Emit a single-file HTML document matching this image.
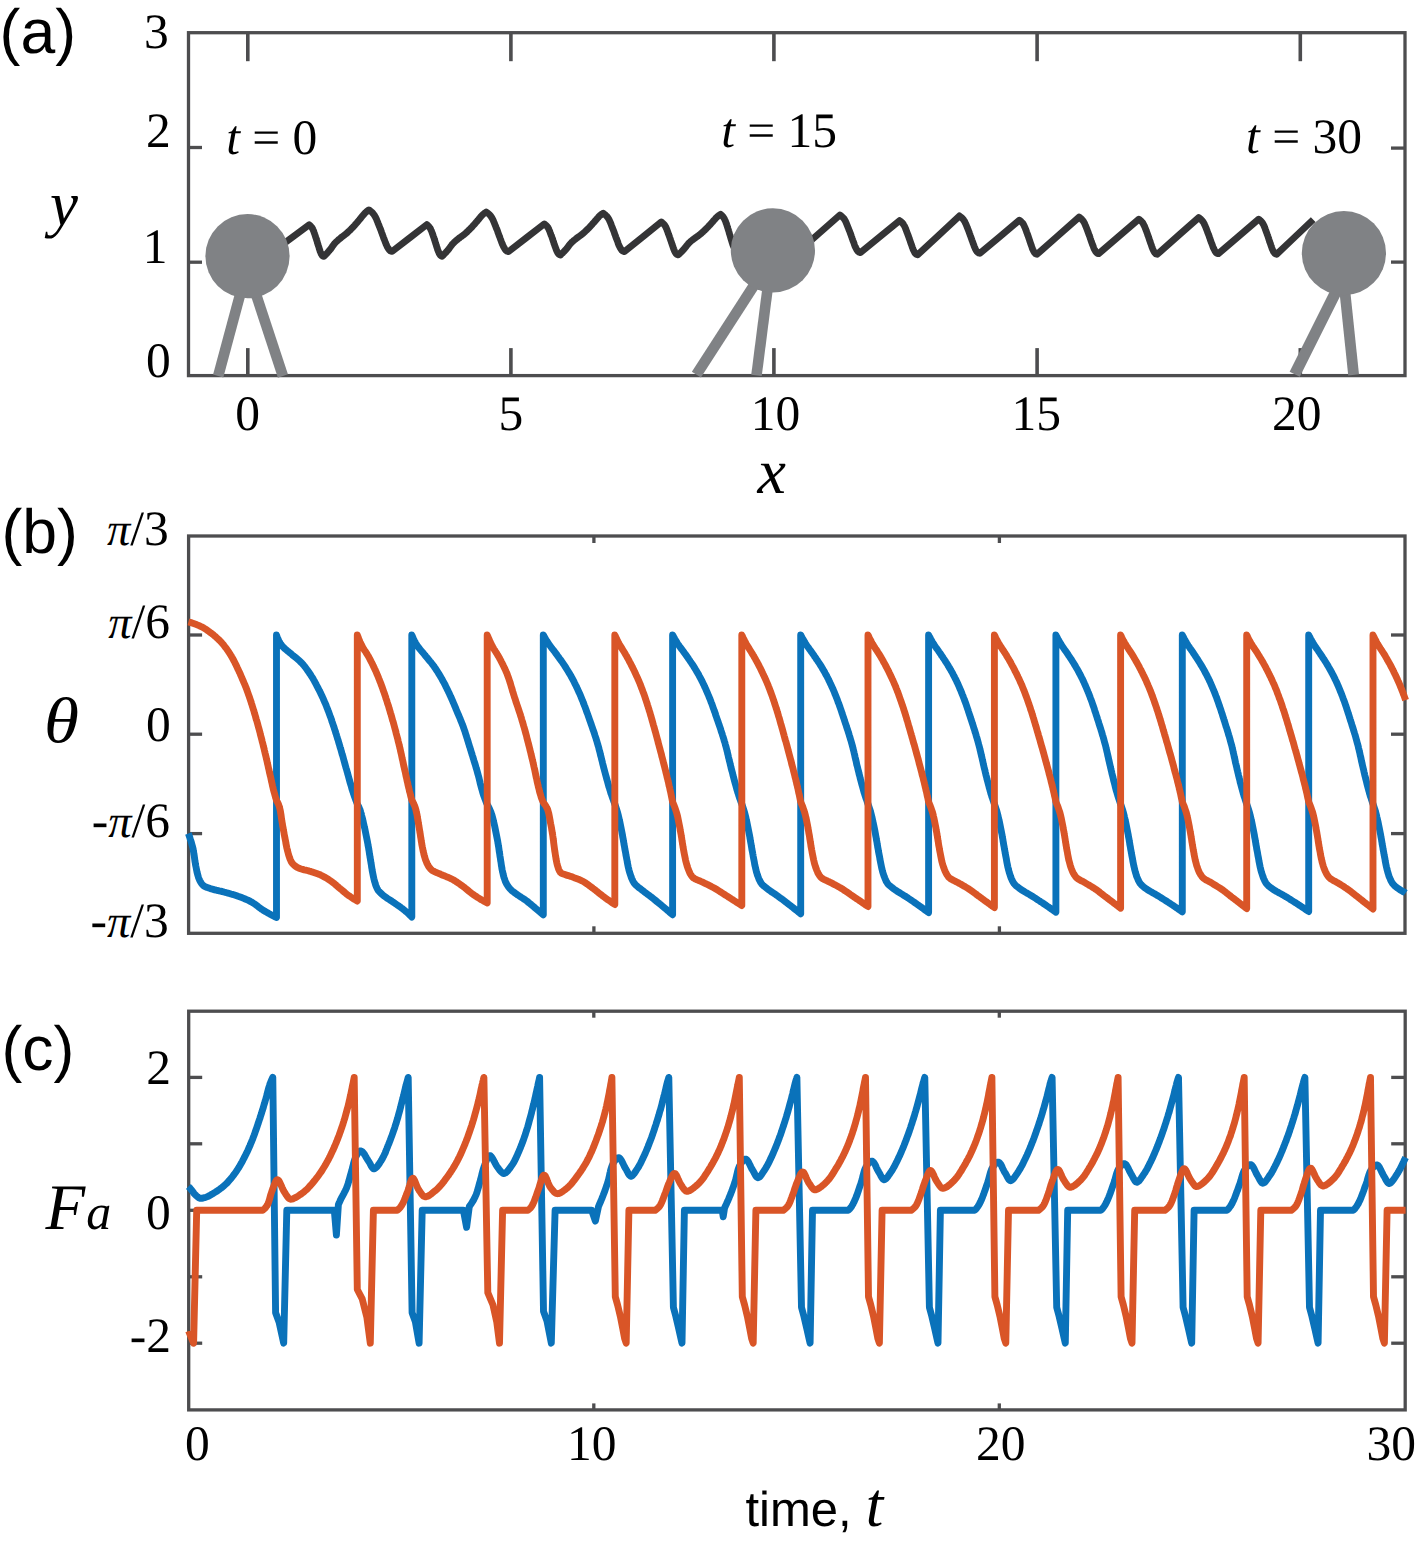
<!DOCTYPE html>
<html><head><meta charset="utf-8"><title>figure</title>
<style>html,body{margin:0;padding:0;background:#fff}svg{display:block}</style></head>
<body>
<svg width="1415" height="1549" viewBox="0 0 1415 1549">
<rect width="1415" height="1549" fill="#fff"/>
<line x1="247.8" y1="32.7" x2="247.8" y2="61.2" stroke="#4d4d4f" stroke-width="3.6"/>
<line x1="247.8" y1="375.6" x2="247.8" y2="348.1" stroke="#4d4d4f" stroke-width="3.6"/>
<line x1="510.9" y1="32.7" x2="510.9" y2="61.2" stroke="#4d4d4f" stroke-width="3.6"/>
<line x1="510.9" y1="375.6" x2="510.9" y2="348.1" stroke="#4d4d4f" stroke-width="3.6"/>
<line x1="773.9" y1="32.7" x2="773.9" y2="61.2" stroke="#4d4d4f" stroke-width="3.6"/>
<line x1="773.9" y1="375.6" x2="773.9" y2="348.1" stroke="#4d4d4f" stroke-width="3.6"/>
<line x1="1037.1" y1="32.7" x2="1037.1" y2="61.2" stroke="#4d4d4f" stroke-width="3.6"/>
<line x1="1037.1" y1="375.6" x2="1037.1" y2="348.1" stroke="#4d4d4f" stroke-width="3.6"/>
<line x1="1300.3" y1="32.7" x2="1300.3" y2="61.2" stroke="#4d4d4f" stroke-width="3.6"/>
<line x1="1300.3" y1="375.6" x2="1300.3" y2="348.1" stroke="#4d4d4f" stroke-width="3.6"/>
<line x1="188.5" y1="147.5" x2="202" y2="147.5" stroke="#4d4d4f" stroke-width="3.3"/>
<line x1="1405" y1="148.1" x2="1391" y2="148.1" stroke="#4d4d4f" stroke-width="3.3"/>
<line x1="188.5" y1="262.2" x2="202" y2="262.2" stroke="#4d4d4f" stroke-width="3.3"/>
<line x1="1405" y1="262.1" x2="1391" y2="262.1" stroke="#4d4d4f" stroke-width="3.3"/>
<path d="M262 259.6 L285.6 242.2 L309.2 224.8 L309.9 225.4 L310.5 226 L311.1 226.6 L311.7 227.3 L312.1 228 L312.2 228 L312.6 228.7 L312.9 229.4 L313.3 230.2 L313.6 231 L313.9 231.8 L314.2 232.7 L314.5 233.5 L314.8 234.4 L315.1 235.2 L315.3 236 L315.6 236.9 L315.8 237.4 L315.9 237.7 L316.2 238.5 L316.4 239.3 L316.7 240.2 L317 241 L317.2 241.8 L317.4 242.7 L317.7 243.5 L317.9 244.3 L318.2 245.2 L318.5 246 L318.7 246.8 L318.8 246.9 L319 247.6 L319.2 248.5 L319.5 249.3 L319.8 250.2 L320 251 L320.3 251.8 L320.7 252.6 L321 253.2 L321 253.4 L321.4 254.2 L321.9 255 L322.4 255.7 L322.7 255.9 L323 256.1 L323.9 256.4 L324.8 255.5 L325.6 254.7 L326.5 253.8 L327.3 252.9 L328.1 252 L328.9 251 L329.6 250.3 L329.7 250.1 L330.5 249.2 L331.2 248.2 L331.9 247.2 L332.6 246.1 L333.4 245.1 L334.1 244.2 L334.9 243.2 L335.2 242.8 L335.7 242.3 L336.6 241.5 L337.5 240.7 L338.4 239.8 L339.3 239.1 L340.3 238.3 L341 237.7 L341.2 237.5 L342.2 236.7 L343.2 236 L344.2 235.3 L345.1 234.5 L346.1 233.8 L346.5 233.4 L347 233 L347.9 232.1 L348.8 231.3 L349.7 230.5 L350.6 229.6 L351.5 228.7 L352.3 227.8 L353.2 227 L353.4 226.7 L354 226.1 L354.8 225.2 L355.6 224.2 L356.4 223.3 L357.2 222.4 L358 221.4 L358.8 220.5 L359.6 219.5 L360.2 218.8 L360.4 218.6 L361.1 217.7 L361.9 216.7 L362.7 215.7 L363.5 214.8 L364.3 213.8 L365.1 212.9 L365.9 212.2 L366 212.1 L366.9 211.3 L367.9 210.6 L368.9 209.9 L369.9 210.6 L370.9 211.4 L371.8 212.1 L372.6 213 L373.4 213.8 L373.6 214.1 L374 214.7 L374.7 215.7 L375.2 216.7 L375.8 217.8 L376.3 218.8 L376.8 220 L377.2 221.1 L377.7 222.2 L378.1 223.4 L378.6 224.5 L379 225.6 L379.4 226.5 L379.5 226.7 L379.9 227.8 L380.3 228.9 L380.8 230 L381.2 231.1 L381.6 232.3 L382 233.4 L382.4 234.5 L382.8 235.6 L383.2 236.7 L383.6 237.9 L384 238.9 L384.1 239 L384.5 240.1 L384.9 241.2 L385.3 242.3 L385.8 243.5 L386.2 244.6 L386.7 245.6 L387.2 246.7 L387.5 247.2 L387.8 247.7 L388.5 248.8 L389.2 249.8 L390 250.6 L390.3 250.8 L391 251.1 L392.2 251.4 L409.5 238 L426.8 224.6 L427.5 225.2 L428.2 225.8 L428.8 226.4 L429.4 227.1 L429.8 227.7 L429.9 227.8 L430.3 228.5 L430.7 229.2 L431 230 L431.4 230.8 L431.7 231.6 L432 232.4 L432.3 233.3 L432.6 234.1 L432.9 235 L433.2 235.8 L433.5 236.7 L433.7 237.2 L433.8 237.5 L434.1 238.3 L434.3 239.1 L434.6 240 L434.9 240.8 L435.1 241.6 L435.4 242.5 L435.6 243.3 L435.9 244.1 L436.2 245 L436.4 245.8 L436.7 246.6 L436.7 246.7 L437 247.5 L437.3 248.3 L437.5 249.2 L437.8 250 L438.1 250.8 L438.4 251.6 L438.8 252.4 L439 253 L439.1 253.2 L439.5 254 L440 254.8 L440.6 255.5 L440.9 255.7 L441.2 255.9 L442.1 256.2 L443 255.4 L443.8 254.5 L444.6 253.7 L445.5 252.8 L446.3 252 L447 251.1 L447.7 250.4 L447.8 250.2 L448.6 249.3 L449.3 248.4 L450 247.4 L450.7 246.4 L451.4 245.5 L452.1 244.5 L452.9 243.7 L453.2 243.3 L453.7 242.8 L454.5 242 L455.4 241.2 L456.3 240.4 L457.2 239.7 L458.2 238.9 L458.8 238.4 L459.1 238.2 L460 237.5 L461 236.8 L462 236.1 L462.9 235.4 L463.8 234.7 L464.3 234.3 L464.8 233.9 L465.6 233.2 L466.5 232.4 L467.4 231.6 L468.2 230.7 L469.1 229.9 L469.9 229.1 L470.8 228.2 L471 228 L471.6 227.4 L472.4 226.5 L473.2 225.6 L474 224.7 L474.7 223.9 L475.5 223 L476.3 222.1 L477.1 221.2 L477.6 220.5 L477.8 220.3 L478.6 219.4 L479.4 218.4 L480.1 217.5 L480.9 216.6 L481.7 215.7 L482.5 214.9 L483.2 214.2 L483.3 214.1 L484.2 213.4 L485.2 212.7 L486.2 212 L487.2 212.7 L488.1 213.4 L489 214.1 L489.8 214.9 L490.5 215.7 L490.7 216 L491.1 216.6 L491.7 217.5 L492.3 218.5 L492.8 219.5 L493.3 220.5 L493.7 221.6 L494.2 222.7 L494.6 223.7 L495 224.8 L495.5 225.9 L495.9 227 L496.2 227.8 L496.3 228 L496.7 229.1 L497.2 230.1 L497.6 231.2 L497.9 232.3 L498.3 233.3 L498.7 234.4 L499.1 235.5 L499.5 236.6 L499.9 237.6 L500.3 238.7 L500.7 239.7 L500.7 239.7 L501.1 240.8 L501.5 241.9 L501.9 242.9 L502.3 244 L502.8 245.1 L503.2 246.1 L503.7 247.1 L504 247.6 L504.3 248.1 L504.9 249.1 L505.6 250.1 L506.4 250.8 L506.7 251 L507.4 251.3 L508.5 251.6 L526.4 237.8 L544.3 223.9 L545 224.5 L545.7 225 L546.4 225.6 L547 226.3 L547.5 226.9 L547.5 227 L547.9 227.6 L548.4 228.3 L548.7 229.1 L549.1 229.9 L549.5 230.7 L549.8 231.5 L550.1 232.4 L550.4 233.2 L550.7 234 L551 234.9 L551.4 235.7 L551.6 236.3 L551.7 236.5 L552 237.4 L552.3 238.2 L552.6 239 L552.8 239.8 L553.1 240.7 L553.4 241.5 L553.7 242.3 L553.9 243.2 L554.2 244 L554.5 244.8 L554.8 245.6 L554.8 245.7 L555.1 246.5 L555.4 247.3 L555.7 248.1 L556 249 L556.3 249.8 L556.6 250.6 L557 251.4 L557.3 251.9 L557.4 252.1 L557.8 252.9 L558.4 253.7 L558.9 254.3 L559.2 254.5 L559.6 254.7 L560.5 255 L561.3 254.2 L562.1 253.4 L563 252.6 L563.7 251.8 L564.5 251 L565.3 250.2 L565.9 249.5 L566 249.3 L566.8 248.5 L567.5 247.6 L568.1 246.7 L568.8 245.7 L569.5 244.8 L570.2 244 L571 243.1 L571.3 242.8 L571.7 242.3 L572.6 241.6 L573.4 240.8 L574.3 240.1 L575.2 239.4 L576.1 238.7 L576.7 238.2 L577 238 L577.9 237.3 L578.8 236.6 L579.7 236 L580.7 235.3 L581.6 234.6 L582 234.3 L582.4 233.9 L583.3 233.2 L584.1 232.5 L585 231.7 L585.8 230.9 L586.6 230.1 L587.4 229.4 L588.2 228.6 L588.5 228.3 L589 227.8 L589.8 226.9 L590.6 226.1 L591.3 225.3 L592.1 224.4 L592.8 223.6 L593.6 222.7 L594.3 221.9 L594.9 221.2 L595.1 221 L595.8 220.2 L596.6 219.3 L597.3 218.4 L598.1 217.6 L598.8 216.7 L599.6 215.9 L600.3 215.2 L600.4 215.2 L601.3 214.5 L602.2 213.8 L603.2 213.2 L604.1 213.9 L605 214.6 L605.8 215.3 L606.6 216.1 L607.3 216.9 L607.4 217 L607.9 217.7 L608.5 218.6 L609 219.5 L609.5 220.5 L609.9 221.5 L610.4 222.5 L610.8 223.6 L611.2 224.6 L611.6 225.7 L612 226.7 L612.4 227.7 L612.7 228.6 L612.8 228.8 L613.2 229.8 L613.6 230.8 L614 231.8 L614.4 232.9 L614.7 233.9 L615.1 234.9 L615.5 236 L615.8 237 L616.2 238 L616.6 239.1 L617 240.1 L617 240.1 L617.4 241.1 L617.8 242.1 L618.1 243.2 L618.5 244.2 L618.9 245.2 L619.4 246.2 L619.9 247.2 L620.2 247.8 L620.4 248.2 L621 249.1 L621.6 250.1 L622.4 250.8 L622.7 251 L623.3 251.3 L624.4 251.6 L642.8 236.8 L661.3 221.9 L662 222.5 L662.8 223.1 L663.5 223.8 L664.1 224.4 L664.6 225.1 L664.7 225.2 L665.1 225.9 L665.5 226.6 L666 227.4 L666.3 228.3 L666.7 229.1 L667 230 L667.4 230.9 L667.7 231.8 L668 232.7 L668.3 233.6 L668.7 234.5 L668.9 235.1 L669 235.3 L669.3 236.2 L669.6 237.1 L669.9 237.9 L670.2 238.8 L670.5 239.7 L670.8 240.6 L671.1 241.4 L671.4 242.3 L671.7 243.2 L672 244.1 L672.3 245 L672.3 245 L672.6 245.8 L672.9 246.7 L673.2 247.6 L673.5 248.5 L673.8 249.3 L674.2 250.2 L674.5 251 L674.8 251.6 L674.9 251.8 L675.4 252.7 L675.9 253.5 L676.6 254.2 L676.8 254.4 L677.3 254.6 L678.2 254.9 L679 254.1 L679.8 253.4 L680.6 252.6 L681.4 251.8 L682.2 251 L683 250.2 L683.6 249.5 L683.7 249.4 L684.4 248.6 L685.1 247.7 L685.8 246.8 L686.5 245.9 L687.2 245 L687.9 244.2 L688.6 243.3 L688.9 243 L689.4 242.6 L690.2 241.8 L691 241.1 L691.9 240.4 L692.8 239.7 L693.7 239 L694.3 238.6 L694.6 238.4 L695.5 237.7 L696.4 237.1 L697.3 236.4 L698.2 235.8 L699.1 235.1 L699.5 234.8 L700 234.4 L700.8 233.7 L701.7 233 L702.5 232.3 L703.3 231.5 L704.1 230.8 L704.9 230 L705.7 229.2 L706 229 L706.5 228.4 L707.3 227.6 L708.1 226.8 L708.8 226 L709.6 225.2 L710.3 224.4 L711.1 223.5 L711.8 222.7 L712.4 222.1 L712.6 221.9 L713.3 221.1 L714 220.2 L714.8 219.4 L715.5 218.5 L716.3 217.7 L717 216.9 L717.8 216.3 L717.9 216.2 L718.7 215.5 L719.7 214.9 L720.6 214.3 L721.4 215 L722.1 215.7 L722.8 216.4 L723.4 217.2 L723.9 217.9 L723.9 218 L724.4 218.8 L724.8 219.7 L725.2 220.5 L725.6 221.5 L725.9 222.4 L726.2 223.3 L726.6 224.3 L726.9 225.3 L727.2 226.2 L727.5 227.2 L727.8 228.1 L728 228.8 L728.1 229.1 L728.4 230 L728.7 231 L729 231.9 L729.2 232.9 L729.5 233.8 L729.8 234.8 L730.1 235.7 L730.4 236.7 L730.6 237.6 L730.9 238.6 L731.2 239.5 L731.3 239.6 L731.5 240.5 L731.8 241.4 L732.1 242.4 L732.4 243.3 L732.7 244.3 L733 245.2 L733.4 246.1 L733.7 246.9 L733.8 247 L734.2 247.9 L734.7 248.8 L735.3 249.6 L735.7 250 L736 250.2 L737 250.5" fill="none" stroke="#343436" stroke-width="6.8" stroke-linejoin="round" stroke-linecap="butt"/>
<path d="M795 254.5 L817.5 234.8 L839.9 215 L840.8 215.7 L841.7 216.3 L842.5 217.1 L843.2 217.8 L843.9 218.6 L844 218.8 L844.5 219.4 L845 220.3 L845.5 221.2 L846 222.2 L846.4 223.2 L846.8 224.2 L847.2 225.2 L847.6 226.2 L848 227.2 L848.4 228.2 L848.8 229.3 L849.1 230 L849.2 230.3 L849.6 231.2 L850 232.2 L850.3 233.2 L850.7 234.3 L851.1 235.3 L851.4 236.3 L851.8 237.3 L852.1 238.3 L852.5 239.3 L852.8 240.3 L853.2 241.3 L853.2 241.3 L853.6 242.3 L854 243.3 L854.3 244.3 L854.7 245.4 L855.1 246.4 L855.5 247.3 L856 248.3 L856.3 248.8 L856.5 249.2 L857.1 250.2 L857.7 251.1 L858.5 251.8 L858.8 252 L859.3 252.3 L860.4 252.6 L880 236.6 L899.6 220.6 L900.4 221.2 L901.2 221.8 L901.9 222.5 L902.6 223.2 L903.1 223.9 L903.2 224 L903.6 224.7 L904.1 225.5 L904.6 226.3 L905 227.2 L905.4 228.1 L905.7 229 L906.1 229.9 L906.4 230.8 L906.8 231.7 L907.1 232.7 L907.5 233.6 L907.7 234.3 L907.8 234.5 L908.2 235.4 L908.5 236.3 L908.8 237.2 L909.1 238.1 L909.4 239 L909.8 240 L910.1 240.9 L910.4 241.8 L910.7 242.7 L911 243.6 L911.4 244.5 L911.4 244.5 L911.7 245.4 L912 246.3 L912.3 247.3 L912.7 248.2 L913 249.1 L913.4 250 L913.8 250.8 L914.1 251.4 L914.2 251.7 L914.7 252.6 L915.3 253.4 L916 254.1 L916.3 254.3 L916.7 254.5 L917.7 254.8 L938.5 235.4 L959.4 215.9 L960.3 216.6 L961.1 217.2 L962 217.9 L962.7 218.7 L963.4 219.5 L963.5 219.6 L963.9 220.3 L964.5 221.2 L965 222.1 L965.4 223 L965.9 224 L966.3 225 L966.7 226 L967.1 227 L967.5 228.1 L967.9 229.1 L968.3 230.1 L968.6 230.9 L968.7 231.1 L969.1 232.1 L969.4 233.1 L969.8 234.1 L970.1 235.1 L970.5 236.1 L970.9 237.1 L971.2 238.1 L971.6 239.1 L971.9 240.1 L972.3 241.1 L972.7 242.1 L972.7 242.1 L973 243.1 L973.4 244.1 L973.8 245.1 L974.1 246.1 L974.5 247.1 L975 248.1 L975.4 249 L975.7 249.6 L975.9 249.9 L976.5 250.9 L977.1 251.8 L977.9 252.5 L978.2 252.7 L978.7 253 L979.8 253.3 L999.6 236.8 L1019.4 220.2 L1020.2 220.8 L1020.9 221.4 L1021.6 222.1 L1022.3 222.8 L1022.9 223.5 L1022.9 223.6 L1023.4 224.3 L1023.8 225.1 L1024.2 225.9 L1024.6 226.8 L1025 227.7 L1025.4 228.6 L1025.7 229.5 L1026.1 230.4 L1026.4 231.3 L1026.7 232.3 L1027.1 233.2 L1027.3 233.8 L1027.4 234.1 L1027.7 235 L1028.1 235.9 L1028.4 236.8 L1028.7 237.7 L1029 238.6 L1029.3 239.5 L1029.6 240.4 L1029.9 241.3 L1030.2 242.2 L1030.5 243.1 L1030.8 244 L1030.8 244.1 L1031.1 244.9 L1031.5 245.8 L1031.8 246.8 L1032.1 247.7 L1032.4 248.6 L1032.8 249.5 L1033.2 250.3 L1033.5 250.9 L1033.6 251.2 L1034.1 252 L1034.7 252.9 L1035.3 253.6 L1035.6 253.8 L1036 254 L1037 254.3 L1058 235.7 L1079.1 217.1 L1080 217.7 L1080.8 218.4 L1081.6 219.1 L1082.3 219.9 L1082.9 220.6 L1083 220.8 L1083.5 221.4 L1084 222.3 L1084.5 223.2 L1084.9 224.1 L1085.3 225.1 L1085.7 226 L1086.1 227 L1086.5 228 L1086.9 229 L1087.3 230 L1087.6 231 L1087.9 231.7 L1088 232 L1088.4 232.9 L1088.7 233.9 L1089.1 234.9 L1089.4 235.8 L1089.8 236.8 L1090.1 237.8 L1090.4 238.8 L1090.8 239.8 L1091.1 240.8 L1091.5 241.7 L1091.8 242.7 L1091.8 242.7 L1092.2 243.7 L1092.5 244.7 L1092.9 245.6 L1093.3 246.6 L1093.6 247.6 L1094 248.6 L1094.5 249.5 L1094.8 250 L1095 250.4 L1095.5 251.3 L1096.1 252.2 L1096.8 252.9 L1097.1 253.2 L1097.7 253.4 L1098.7 253.7 L1118.8 236.4 L1138.9 219.2 L1139.7 219.8 L1140.5 220.5 L1141.2 221.2 L1141.9 221.9 L1142.5 222.6 L1142.6 222.7 L1143 223.4 L1143.5 224.2 L1143.9 225.1 L1144.4 226 L1144.8 226.9 L1145.1 227.8 L1145.5 228.7 L1145.9 229.7 L1146.2 230.6 L1146.6 231.6 L1146.9 232.5 L1147.2 233.2 L1147.3 233.5 L1147.6 234.4 L1147.9 235.3 L1148.3 236.2 L1148.6 237.2 L1148.9 238.1 L1149.2 239.1 L1149.5 240 L1149.9 240.9 L1150.2 241.9 L1150.5 242.8 L1150.8 243.7 L1150.9 243.8 L1151.2 244.7 L1151.5 245.6 L1151.8 246.6 L1152.2 247.5 L1152.5 248.4 L1152.9 249.3 L1153.3 250.2 L1153.6 250.8 L1153.8 251.1 L1154.3 252 L1154.9 252.9 L1155.5 253.6 L1155.8 253.8 L1156.3 254 L1157.3 254.3 L1178 235.9 L1198.7 217.6 L1199.6 218.2 L1200.4 218.9 L1201.2 219.6 L1201.9 220.3 L1202.5 221.1 L1202.6 221.2 L1203.1 221.8 L1203.6 222.7 L1204.1 223.6 L1204.5 224.5 L1205 225.4 L1205.4 226.4 L1205.8 227.4 L1206.1 228.3 L1206.5 229.3 L1206.9 230.3 L1207.3 231.3 L1207.6 232 L1207.6 232.2 L1208 233.2 L1208.4 234.2 L1208.7 235.1 L1209.1 236.1 L1209.4 237.1 L1209.8 238 L1210.1 239 L1210.4 240 L1210.8 240.9 L1211.1 241.9 L1211.5 242.9 L1211.5 242.9 L1211.9 243.8 L1212.2 244.8 L1212.6 245.8 L1212.9 246.7 L1213.3 247.7 L1213.7 248.6 L1214.2 249.6 L1214.5 250.1 L1214.7 250.4 L1215.2 251.4 L1215.8 252.3 L1216.5 253 L1216.8 253.2 L1217.4 253.4 L1218.4 253.7 L1238.6 236.4 L1258.7 219.2 L1259.5 219.8 L1260.3 220.5 L1261 221.2 L1261.7 221.9 L1262.2 222.6 L1262.3 222.7 L1262.7 223.4 L1263.2 224.2 L1263.7 225.1 L1264.1 226 L1264.5 226.9 L1264.8 227.8 L1265.2 228.8 L1265.5 229.7 L1265.9 230.7 L1266.2 231.6 L1266.5 232.5 L1266.8 233.2 L1266.9 233.5 L1267.2 234.4 L1267.6 235.3 L1267.9 236.3 L1268.2 237.2 L1268.5 238.1 L1268.8 239.1 L1269.1 240 L1269.4 240.9 L1269.7 241.9 L1270.1 242.8 L1270.4 243.7 L1270.4 243.8 L1270.7 244.6 L1271 245.6 L1271.4 246.5 L1271.7 247.5 L1272 248.4 L1272.4 249.3 L1272.8 250.2 L1273.1 250.8 L1273.2 251.1 L1273.7 252 L1274.3 252.8 L1274.9 253.5 L1275.3 253.8 L1275.7 254 L1276.7 254.3 L1295 236.9 L1313.2 219.6" fill="none" stroke="#343436" stroke-width="6.8" stroke-linejoin="round" stroke-linecap="butt"/>
<rect x="188.5" y="32.7" width="1216.5" height="342.9" fill="none" stroke="#4d4d4f" stroke-width="3.3"/>
<line x1="248.9" y1="261.9" x2="218.2" y2="376" stroke="#808285" stroke-width="10.6"/>
<line x1="245.3" y1="261.9" x2="282.9" y2="376" stroke="#808285" stroke-width="10.6"/>
<line x1="778" y1="248.2" x2="696.4" y2="374.6" stroke="#808285" stroke-width="10.8"/>
<line x1="772" y1="254" x2="756.5" y2="375.4" stroke="#808285" stroke-width="10.6"/>
<line x1="1353" y1="257.7" x2="1294.7" y2="374.3" stroke="#808285" stroke-width="11.4"/>
<line x1="1341.3" y1="257.4" x2="1353.6" y2="374.9" stroke="#808285" stroke-width="10.8"/>
<circle cx="247.5" cy="256.2" r="42.1" fill="#808285"/>
<circle cx="772.9" cy="250.4" r="42.1" fill="#808285"/>
<circle cx="1343.9" cy="253.1" r="42.1" fill="#808285"/>
<text x="-0.4" y="53.3" text-anchor="start" fill="#000" text-rendering="geometricPrecision"><tspan font-family='"Liberation Sans", sans-serif' font-style="normal" font-size="62.5">(a)</tspan></text>
<text x="143.9" y="48.4" text-anchor="start" fill="#000" text-rendering="geometricPrecision"><tspan font-family='"Liberation Serif", serif' font-style="normal" font-size="49.5">3</tspan></text>
<text x="146.1" y="146.5" text-anchor="start" fill="#000" text-rendering="geometricPrecision"><tspan font-family='"Liberation Serif", serif' font-style="normal" font-size="49.5">2</tspan></text>
<text x="142.8" y="262.6" text-anchor="start" fill="#000" text-rendering="geometricPrecision"><tspan font-family='"Liberation Serif", serif' font-style="normal" font-size="49.5">1</tspan></text>
<text x="145.9" y="376.5" text-anchor="start" fill="#000" text-rendering="geometricPrecision"><tspan font-family='"Liberation Serif", serif' font-style="normal" font-size="49.5">0</tspan></text>
<text x="235.2" y="430.2" text-anchor="start" fill="#000" text-rendering="geometricPrecision"><tspan font-family='"Liberation Serif", serif' font-style="normal" font-size="49.5">0</tspan></text>
<text x="498.5" y="430.2" text-anchor="start" fill="#000" text-rendering="geometricPrecision"><tspan font-family='"Liberation Serif", serif' font-style="normal" font-size="49.5">5</tspan></text>
<text x="750.8" y="430.2" text-anchor="start" fill="#000" text-rendering="geometricPrecision"><tspan font-family='"Liberation Serif", serif' font-style="normal" font-size="49.5">10</tspan></text>
<text x="1011.5" y="430.2" text-anchor="start" fill="#000" text-rendering="geometricPrecision"><tspan font-family='"Liberation Serif", serif' font-style="normal" font-size="49.5">15</tspan></text>
<text x="1272.1" y="430.2" text-anchor="start" fill="#000" text-rendering="geometricPrecision"><tspan font-family='"Liberation Serif", serif' font-style="normal" font-size="49.5">20</tspan></text>
<text x="50.1" y="224.6" text-anchor="start" fill="#000" text-rendering="geometricPrecision"><tspan font-family='"Liberation Serif", serif' font-style="italic" font-size="63">y</tspan></text>
<text x="757.5" y="492.7" text-anchor="start" fill="#000" text-rendering="geometricPrecision"><tspan font-family='"Liberation Serif", serif' font-style="italic" font-size="64">x</tspan></text>
<text x="226.2" y="153.5" text-anchor="start" fill="#000" text-rendering="geometricPrecision"><tspan font-family='"Liberation Serif", serif' font-style="italic" font-size="49.5">t</tspan><tspan font-family='"Liberation Serif", serif' font-style="normal" font-size="49.5"> = 0</tspan></text>
<text x="721.2" y="146.5" text-anchor="start" fill="#000" text-rendering="geometricPrecision"><tspan font-family='"Liberation Serif", serif' font-style="italic" font-size="49.5">t</tspan><tspan font-family='"Liberation Serif", serif' font-style="normal" font-size="49.5"> = 15</tspan></text>
<text x="1246.1" y="153.2" text-anchor="start" fill="#000" text-rendering="geometricPrecision"><tspan font-family='"Liberation Serif", serif' font-style="italic" font-size="49.5">t</tspan><tspan font-family='"Liberation Serif", serif' font-style="normal" font-size="49.5"> = 30</tspan></text>
<line x1="593.9" y1="536" x2="593.9" y2="543" stroke="#4d4d4f" stroke-width="3.3"/>
<line x1="593.9" y1="933.3" x2="593.9" y2="926.3" stroke="#4d4d4f" stroke-width="3.3"/>
<line x1="999.4" y1="536" x2="999.4" y2="543" stroke="#4d4d4f" stroke-width="3.3"/>
<line x1="999.4" y1="933.3" x2="999.4" y2="926.3" stroke="#4d4d4f" stroke-width="3.3"/>
<line x1="188.6" y1="635" x2="202.1" y2="635" stroke="#4d4d4f" stroke-width="3.3"/>
<line x1="1405" y1="635" x2="1391" y2="635" stroke="#4d4d4f" stroke-width="3.3"/>
<line x1="188.6" y1="734.2" x2="202.1" y2="734.2" stroke="#4d4d4f" stroke-width="3.3"/>
<line x1="1405" y1="734.2" x2="1391" y2="734.2" stroke="#4d4d4f" stroke-width="3.3"/>
<line x1="188.6" y1="833.6" x2="202.1" y2="833.6" stroke="#4d4d4f" stroke-width="3.3"/>
<line x1="1405" y1="833.6" x2="1391" y2="833.6" stroke="#4d4d4f" stroke-width="3.3"/>
<rect x="188.6" y="536" width="1216.4" height="397.3" fill="none" stroke="#4d4d4f" stroke-width="3.3"/>
<path d="M188.4 833.5 L188.9 834.9 L189.4 836.4 L189.6 837 L189.9 837.8 L190.3 839.3 L190.8 840.7 L191.3 842.2 L191.7 843.6 L192.1 845.1 L192.5 846.5 L192.8 847.7 L192.9 848 L193.2 849.5 L193.4 851 L193.7 852.5 L193.9 854 L194.2 855.5 L194.4 857 L194.6 858.5 L194.8 860 L195 861.5 L195.3 863 L195.5 864.5 L195.8 866 L195.9 866.4 L196.1 867.5 L196.4 869 L196.7 870.5 L197 872 L197.4 873.5 L197.8 875 L198.2 876.4 L198.6 877.8 L199 878.8 L199.2 879.2 L199.8 880.6 L200.6 882 L201.4 883.4 L202.4 884.6 L203.4 885.6 L203.7 885.8 L204.5 886.3 L205.9 887 L207.3 887.6 L208.8 888.1 L210.3 888.6 L211.4 888.9 L211.8 889 L213.2 889.4 L214.7 889.8 L216.2 890.2 L217.7 890.5 L219.2 890.9 L220.6 891.2 L222.1 891.5 L223.6 891.9 L223.9 892 L225.1 892.3 L226.5 892.7 L228 893.1 L229.4 893.5 L230.9 894 L232.4 894.4 L233.8 894.8 L235.3 895.3 L236.7 895.8 L238.1 896.3 L239.4 896.7 L239.6 896.8 L241 897.3 L242.4 897.8 L243.8 898.4 L245.2 899 L246.6 899.6 L248 900.2 L249.4 900.9 L250.7 901.6 L251.9 902.2 L252.1 902.3 L253.3 903.1 L254.6 903.9 L255.8 904.8 L257 905.7 L258.2 906.7 L259.4 907.6 L260.7 908.5 L261.9 909.4 L262.7 909.9 L263.2 910.2 L264.5 911 L265.8 911.8 L267.1 912.5 L268.4 913.3 L269.7 914 L271.1 914.8 L272.4 915.5 L273.8 916.2 L275.1 916.8 L276.5 917.5 L276.5 635 L277 636.5 L277.5 638 L278.2 639.4 L278.8 640.8 L279.5 642.1 L280.3 643.4 L281.1 644.6 L281.4 645 L282 645.7 L282.9 646.8 L284 647.9 L285.1 648.9 L286.3 649.9 L287.5 650.9 L288.7 651.8 L289.9 652.8 L290.7 653.5 L291.1 653.8 L292.2 654.8 L293.4 655.8 L294.6 656.7 L295.8 657.7 L297 658.7 L298.1 659.6 L299.3 660.6 L300.4 661.7 L301.4 662.7 L301.6 662.9 L302.4 663.8 L303.4 664.9 L304.4 666.1 L305.3 667.3 L306.2 668.5 L307.1 669.7 L308 671 L308.9 672.3 L309.7 673.5 L310.6 674.8 L310.9 675.3 L311.4 676.1 L312.2 677.3 L313 678.6 L313.7 679.9 L314.5 681.3 L315.2 682.6 L315.9 683.9 L316.6 685.3 L317.3 686.6 L318 688 L318.7 689.3 L318.7 689.3 L319.4 690.7 L320.1 692 L320.7 693.4 L321.4 694.8 L322 696.1 L322.7 697.5 L323.3 698.9 L323.9 700.3 L324.5 701.7 L325.1 703 L325.7 704.4 L326.3 705.8 L326.5 706.4 L326.8 707.2 L327.4 708.7 L327.9 710.1 L328.5 711.5 L329 712.9 L329.5 714.3 L330 715.7 L330.6 717.2 L331.1 718.6 L331.6 720 L332 721.5 L332.5 722.9 L333 724.3 L333.5 725.8 L334 727.2 L334.3 728.2 L334.4 728.7 L334.9 730.1 L335.4 731.5 L335.8 733 L336.3 734.4 L336.7 735.9 L337.2 737.3 L337.6 738.8 L338.1 740.2 L338.5 741.7 L338.9 743.1 L339.4 744.6 L339.8 746 L340.2 747.5 L340.5 748.4 L340.7 748.9 L341.1 750.4 L341.5 751.8 L341.9 753.3 L342.3 754.7 L342.8 756.2 L343.2 757.7 L343.6 759.1 L344 760.6 L344.4 762 L344.8 763.5 L345.2 765 L345.6 766.4 L346 767.9 L346.5 769.3 L346.9 770.8 L347.3 772.2 L347.5 773 L347.7 773.7 L348.1 775.2 L348.5 776.6 L348.9 778.1 L349.3 779.5 L349.7 781 L350.1 782.5 L350.5 783.9 L351 785.4 L351.4 786.8 L351.8 788.3 L352.2 789.7 L352.7 791.2 L352.9 791.8 L353.2 792.6 L353.6 794 L354.1 795.5 L354.6 796.9 L355.2 798.3 L355.7 799.8 L356.2 801.2 L356.8 802.6 L357.3 804 L358 805.4 L358.7 806.7 L359.3 808.1 L359.9 809.5 L360 809.8 L360.4 810.9 L360.8 812.4 L361.3 813.8 L361.6 815.3 L362 816.8 L362.4 818.2 L362.7 819.7 L363.1 821.2 L363.4 822.7 L363.7 824.2 L363.8 824.4 L364.1 825.7 L364.4 827.1 L364.8 828.6 L365.1 830.1 L365.4 831.6 L365.7 833.1 L366 834.6 L366.3 836.1 L366.6 837.5 L366.9 839 L367.2 840.5 L367.5 842 L367.7 843.1 L367.8 843.5 L368 845 L368.3 846.5 L368.6 848 L368.8 849.5 L369.1 851 L369.3 852.5 L369.5 854 L369.8 855.5 L370 857 L370.3 858.5 L370.5 860 L370.8 861.5 L370.8 861.7 L371 863 L371.3 864.5 L371.5 866 L371.7 867.5 L372 869 L372.2 870.5 L372.5 872 L372.8 873.5 L373.1 875 L373.4 876.5 L373.7 877.9 L373.9 878.8 L374.1 879.4 L374.4 880.9 L374.9 882.4 L375.3 883.9 L375.8 885.4 L376.4 886.8 L377 888.2 L377.7 889.4 L377.8 889.7 L378.4 890.7 L379.4 891.8 L380.5 892.9 L381.6 893.9 L382.8 895 L384 895.9 L384 895.9 L385.2 896.8 L386.4 897.7 L387.7 898.6 L389 899.4 L390.3 900.2 L391.6 901 L392.8 901.9 L393.3 902.2 L394.1 902.7 L395.3 903.6 L396.6 904.5 L397.8 905.3 L399.1 906.2 L400.3 907.1 L401.5 908 L402.8 908.9 L403.9 909.8 L405 910.7 L405.1 910.8 L406.3 911.8 L407.4 912.8 L408.5 913.8 L409.6 914.9 L410.7 915.9 L411.8 917 L411.8 635 L412.4 636.4 L413 637.8 L413.6 639.2 L414.3 640.6 L415 641.9 L415.7 643.3 L416.3 644.2 L416.5 644.5 L417.3 645.8 L418.2 647 L419.2 648.2 L420.1 649.4 L421.1 650.6 L422.1 651.8 L423.1 652.9 L424.1 654.1 L424.9 655.1 L425 655.3 L426 656.5 L427 657.6 L427.9 658.8 L428.9 660 L429.9 661.2 L430.9 662.3 L431.8 663.5 L432.7 664.7 L433.7 665.9 L434.2 666.7 L434.5 667.2 L435.4 668.4 L436.2 669.7 L437.1 671 L437.9 672.3 L438.7 673.6 L439.5 674.9 L440.3 676.2 L441 677.5 L441.8 678.8 L442 679.2 L442.5 680.1 L443.2 681.5 L444 682.8 L444.7 684.2 L445.4 685.5 L446 686.9 L446.7 688.2 L447.4 689.6 L448.1 691 L448.7 692.4 L449.4 693.7 L449.8 694.7 L450 695.1 L450.6 696.5 L451.3 697.9 L451.9 699.3 L452.5 700.7 L453.1 702.1 L453.7 703.5 L454.3 704.9 L454.9 706.3 L455.5 707.7 L456 709 L456 709.1 L456.6 710.5 L457.2 711.9 L457.8 713.3 L458.4 714.7 L459 716.1 L459.6 717.5 L460.2 718.9 L460.7 720.3 L461.3 721.7 L461.9 723.2 L462.4 724.6 L463 726 L463.5 727.4 L463.5 727.5 L464 728.9 L464.5 730.3 L465 731.7 L465.4 733.2 L465.9 734.6 L466.4 736.1 L466.8 737.5 L467.3 739 L467.7 740.4 L468.2 741.9 L468.6 743.4 L469.1 744.8 L469.5 746.3 L470 747.7 L470.4 749.2 L470.5 749.5 L470.9 750.6 L471.3 752.1 L471.8 753.5 L472.2 755 L472.7 756.5 L473.1 757.9 L473.6 759.4 L474 760.8 L474.5 762.3 L474.9 763.7 L475.4 765.2 L475.8 766.6 L476.2 768.1 L476.7 769.6 L477.1 771 L477.5 772.5 L477.5 772.5 L477.9 774 L478.3 775.4 L478.7 776.9 L479.1 778.4 L479.4 779.9 L479.8 781.3 L480.1 782.8 L480.5 784.3 L480.9 785.8 L481.3 787.3 L481.7 788.7 L482.1 790.2 L482.5 791.7 L482.9 793.1 L483.2 794 L483.4 794.6 L483.9 796 L484.4 797.4 L484.9 798.8 L485.5 800.3 L486 801.7 L486.6 803.1 L487.2 804.5 L488 805.9 L488.7 807.2 L489.4 808.6 L490 810 L490.6 811.4 L491.2 812.8 L491.2 812.9 L491.6 814.2 L492.1 815.7 L492.5 817.2 L492.9 818.7 L493.3 820.1 L493.6 821.6 L494 823.1 L494.3 824.7 L494.7 826.2 L495 827.7 L495 827.7 L495.3 829.2 L495.6 830.7 L495.9 832.2 L496.2 833.7 L496.5 835.2 L496.8 836.7 L497.1 838.2 L497.4 839.7 L497.7 841.2 L497.9 842.6 L497.9 842.7 L498.2 844.2 L498.4 845.7 L498.7 847.2 L498.9 848.8 L499.1 850.3 L499.3 851.8 L499.6 853.3 L499.8 854.8 L500 856.3 L500.2 857.4 L500.3 857.9 L500.5 859.4 L500.7 860.9 L501 862.4 L501.2 863.9 L501.4 865.5 L501.7 867 L501.9 868.5 L502.2 870 L502.4 870.8 L502.5 871.5 L502.9 873 L503.2 874.5 L503.6 876 L504 877.5 L504.5 878.9 L505 880.4 L505.3 881.2 L505.5 881.8 L506.2 883.2 L506.9 884.5 L507.8 885.9 L508.6 887.1 L509.6 888.3 L509.8 888.6 L510.6 889.4 L511.7 890.5 L512.9 891.4 L514.1 892.4 L515.4 893.3 L516.6 894.2 L517.2 894.6 L517.9 895.1 L519.2 895.9 L520.4 896.8 L521.7 897.6 L523 898.4 L524.3 899.3 L525.6 900.1 L526.1 900.5 L526.8 901 L528 902 L529.2 903 L530.4 903.9 L531.5 904.9 L532.7 905.9 L533.9 906.9 L535 907.9 L535 907.9 L536.2 908.9 L537.4 909.9 L538.6 910.9 L539.8 911.9 L540.9 912.8 L542.1 913.8 L543.3 914.8 L543.3 635 L544 636.3 L544.8 637.6 L545.6 639 L546.4 640.3 L547.2 641.5 L548 642.8 L548.3 643.3 L548.8 644.1 L549.7 645.3 L550.6 646.5 L551.5 647.7 L552.4 648.9 L553.4 650.1 L554.3 651.3 L555.2 652.5 L556.1 653.8 L556.5 654.2 L557 655 L557.9 656.2 L558.8 657.4 L559.7 658.7 L560.6 659.9 L561.5 661.1 L562.4 662.4 L563.2 663.6 L564.1 664.9 L564.8 665.9 L564.9 666.1 L565.7 667.4 L566.5 668.7 L567.3 670 L568.1 671.3 L568.9 672.6 L569.7 673.9 L570.5 675.2 L571.2 676.5 L571.9 677.8 L572.7 679.2 L573 679.9 L573.4 680.5 L574.1 681.9 L574.7 683.2 L575.4 684.6 L576.1 685.9 L576.7 687.3 L577.4 688.7 L578 690.1 L578.6 691.5 L579.3 692.8 L579.9 694.2 L580.5 695.6 L581.1 697 L581.3 697.7 L581.6 698.4 L582.2 699.8 L582.8 701.2 L583.3 702.6 L583.9 704.1 L584.4 705.5 L585 706.9 L585.5 708.3 L586 709.7 L586.5 711.2 L587 712.6 L587.6 714 L588.1 715.5 L588.6 716.9 L589.1 718.3 L589.5 719.5 L589.6 719.8 L590.1 721.2 L590.6 722.6 L591.1 724 L591.6 725.5 L592.1 726.9 L592.6 728.3 L593.1 729.8 L593.6 731.2 L594.1 732.7 L594.6 734.1 L595 735.5 L595.5 737 L596 738.4 L596.4 739.9 L596.9 741.3 L597.3 742.8 L597.7 744.2 L597.8 744.4 L598.1 745.7 L598.6 747.1 L598.9 748.6 L599.3 750.1 L599.7 751.5 L600.1 753 L600.4 754.5 L600.8 756 L601.2 757.4 L601.5 758.9 L601.9 760.4 L602.3 761.9 L602.6 763.3 L603 764.8 L603.4 766.3 L603.7 767.7 L604.1 769 L604.1 769.2 L604.5 770.7 L604.9 772.1 L605.3 773.6 L605.7 775.1 L606.1 776.5 L606.5 778 L606.9 779.5 L607.3 780.9 L607.7 782.4 L608.1 783.9 L608.5 785.3 L608.9 786.8 L609.4 788.2 L609.8 789.7 L610.3 791.1 L610.7 792.6 L610.9 793.3 L611.2 794 L611.7 795.5 L612.2 796.9 L612.7 798.3 L613.2 799.7 L613.7 801.2 L614.3 802.6 L614.8 804 L615.3 805.4 L615.8 806.9 L616.3 808.3 L616.8 809.8 L617.2 811.3 L617.3 811.5 L617.6 812.7 L618 814.2 L618.4 815.7 L618.7 817.2 L619.1 818.7 L619.4 820.1 L619.8 821.6 L620.1 823.1 L620.4 824.6 L620.7 826.1 L621 827.6 L621.3 829.1 L621.6 830.6 L621.9 832.1 L621.9 832.2 L622.2 833.7 L622.5 835.2 L622.7 836.7 L623 838.2 L623.3 839.7 L623.5 841.2 L623.8 842.7 L624 844.2 L624.3 845.7 L624.6 847.2 L624.8 848.7 L625.1 850.2 L625.4 851.7 L625.7 853.2 L625.8 854 L625.9 854.7 L626.2 856.2 L626.5 857.7 L626.8 859.3 L627.1 860.8 L627.3 862.3 L627.6 863.8 L627.9 865.3 L628.2 866.8 L628.6 868.3 L628.9 869.8 L629.3 871.2 L629.7 872.6 L629.7 872.7 L630.2 874.2 L630.7 875.6 L631.2 877.1 L631.8 878.6 L632.4 880 L633.1 881.4 L633.8 882.7 L634.4 883.5 L634.7 883.8 L635.6 884.9 L636.8 885.9 L638 886.9 L639.3 887.9 L640.5 888.8 L640.6 888.9 L641.7 889.8 L642.9 890.7 L644.1 891.7 L645.3 892.6 L646.6 893.5 L647.8 894.4 L649 895.3 L650.2 896.2 L650.7 896.6 L651.4 897.2 L652.7 898.1 L653.9 899.1 L655 900 L656.2 901 L657.4 902 L658.6 902.9 L659.4 903.6 L659.8 903.9 L661 904.9 L662.1 905.8 L663.3 906.8 L664.5 907.8 L665.7 908.8 L666.8 909.8 L668 910.8 L669.1 911.8 L670.3 912.8 L671.5 913.8 L672.6 914.8 L672.6 635 L673.3 636.3 L674.1 637.7 L674.8 639 L675.6 640.3 L676.4 641.6 L677.2 642.9 L677.4 643.3 L678 644.2 L678.9 645.4 L679.8 646.7 L680.7 647.9 L681.6 649.1 L682.5 650.3 L683.4 651.5 L684.3 652.8 L685.2 654 L685.3 654.2 L686.1 655.2 L687 656.5 L687.8 657.7 L688.7 659 L689.6 660.2 L690.4 661.5 L691.3 662.7 L692.1 664 L693 665.3 L693.4 665.9 L693.8 666.6 L694.6 667.9 L695.4 669.2 L696.2 670.5 L696.9 671.8 L697.7 673.1 L698.5 674.4 L699.2 675.8 L699.9 677.1 L700.6 678.4 L701.3 679.8 L701.4 679.9 L702 681.1 L702.7 682.5 L703.3 683.9 L704 685.2 L704.6 686.6 L705.3 688 L705.9 689.4 L706.5 690.8 L707.1 692.2 L707.7 693.6 L708.3 695 L708.9 696.4 L709.4 697.7 L709.5 697.8 L710 699.2 L710.6 700.6 L711.1 702.1 L711.7 703.5 L712.2 704.9 L712.7 706.3 L713.2 707.8 L713.7 709.2 L714.2 710.6 L714.8 712.1 L715.3 713.5 L715.7 715 L716.2 716.4 L716.7 717.8 L717.2 719.3 L717.3 719.5 L717.7 720.7 L718.2 722.2 L718.7 723.6 L719.2 725 L719.7 726.5 L720.2 727.9 L720.7 729.4 L721.1 730.8 L721.6 732.3 L722.1 733.7 L722.5 735.2 L723 736.6 L723.5 738.1 L723.9 739.5 L724.3 741 L724.8 742.4 L725.2 743.9 L725.3 744.4 L725.6 745.4 L726 746.8 L726.4 748.3 L726.8 749.8 L727.1 751.2 L727.5 752.7 L727.8 754.2 L728.2 755.7 L728.5 757.2 L728.9 758.6 L729.2 760.1 L729.6 761.6 L730 763.1 L730.3 764.6 L730.7 766.1 L731 767.5 L731.4 769 L731.4 769 L731.8 770.5 L732.2 771.9 L732.6 773.4 L732.9 774.9 L733.3 776.4 L733.7 777.8 L734.1 779.3 L734.5 780.8 L734.9 782.3 L735.3 783.7 L735.7 785.2 L736.1 786.7 L736.5 788.1 L736.9 789.6 L737.4 791 L737.8 792.5 L738.1 793.3 L738.3 793.9 L738.7 795.4 L739.2 796.8 L739.7 798.3 L740.2 799.7 L740.7 801.1 L741.3 802.6 L741.8 804 L742.3 805.4 L742.8 806.9 L743.3 808.3 L743.8 809.8 L744.2 811.3 L744.3 811.5 L744.6 812.7 L745 814.2 L745.4 815.7 L745.8 817.2 L746.1 818.7 L746.4 820.2 L746.8 821.7 L747.1 823.2 L747.4 824.7 L747.7 826.2 L748 827.7 L748.3 829.2 L748.6 830.7 L748.9 832.2 L748.9 832.2 L749.2 833.7 L749.5 835.2 L749.8 836.7 L750 838.2 L750.3 839.7 L750.5 841.2 L750.8 842.8 L751.1 844.3 L751.3 845.8 L751.6 847.3 L751.8 848.8 L752.1 850.3 L752.4 851.8 L752.7 853.3 L752.8 854 L753 854.8 L753.2 856.3 L753.5 857.9 L753.8 859.4 L754.1 860.9 L754.4 862.4 L754.6 863.9 L754.9 865.4 L755.3 866.9 L755.6 868.4 L756 869.9 L756.3 871.4 L756.7 872.6 L756.8 872.8 L757.2 874.3 L757.7 875.8 L758.3 877.3 L758.8 878.7 L759.5 880.2 L760.2 881.5 L760.9 882.8 L761.4 883.5 L761.7 884 L762.7 885 L763.9 886.1 L765.1 887 L766.4 888 L767.6 888.9 L767.6 888.9 L768.9 889.9 L770.1 890.8 L771.3 891.7 L772.6 892.5 L773.9 893.4 L775.1 894.2 L776.4 895.1 L777.7 896 L778.1 896.3 L778.9 896.9 L780.1 897.8 L781.4 898.7 L782.6 899.6 L783.8 900.5 L785.1 901.5 L786.3 902.4 L787 903 L787.5 903.3 L788.7 904.3 L789.9 905.2 L791.1 906.1 L792.3 907.1 L793.5 908 L794.7 909 L795.9 909.9 L797.1 910.9 L798.3 911.9 L799.5 912.8 L800.7 913.8 L800.7 635 L801.4 636.3 L802.1 637.7 L802.9 639 L803.6 640.3 L804.4 641.6 L805.2 642.9 L805.4 643.3 L806 644.2 L806.8 645.5 L807.7 646.7 L808.6 647.9 L809.5 649.2 L810.4 650.4 L811.2 651.6 L812.1 652.8 L813 654.1 L813.1 654.2 L813.9 655.3 L814.7 656.6 L815.6 657.8 L816.4 659.1 L817.3 660.3 L818.1 661.6 L819 662.9 L819.8 664.1 L820.6 665.4 L820.9 665.9 L821.4 666.7 L822.2 668 L822.9 669.3 L823.7 670.6 L824.5 671.9 L825.2 673.3 L825.9 674.6 L826.7 675.9 L827.4 677.3 L828.1 678.6 L828.7 679.9 L828.7 680 L829.4 681.3 L830 682.7 L830.7 684.1 L831.3 685.4 L831.9 686.8 L832.6 688.2 L833.2 689.6 L833.8 691 L834.4 692.4 L834.9 693.8 L835.5 695.2 L836.1 696.6 L836.5 697.7 L836.6 698 L837.2 699.4 L837.7 700.8 L838.2 702.3 L838.8 703.7 L839.3 705.1 L839.8 706.5 L840.3 708 L840.8 709.4 L841.3 710.8 L841.8 712.3 L842.2 713.7 L842.7 715.1 L843.2 716.6 L843.7 718 L844.2 719.5 L844.2 719.5 L844.6 720.9 L845.1 722.3 L845.6 723.8 L846.1 725.2 L846.5 726.6 L847 728.1 L847.5 729.5 L848 731 L848.4 732.4 L848.9 733.9 L849.3 735.3 L849.8 736.8 L850.2 738.2 L850.6 739.7 L851.1 741.1 L851.5 742.6 L851.9 744 L852 744.4 L852.3 745.5 L852.7 747 L853 748.4 L853.4 749.9 L853.8 751.4 L854.1 752.8 L854.5 754.3 L854.8 755.8 L855.1 757.3 L855.5 758.7 L855.8 760.2 L856.2 761.7 L856.5 763.2 L856.8 764.7 L857.2 766.1 L857.6 767.6 L857.9 769 L857.9 769.1 L858.3 770.5 L858.7 772 L859 773.5 L859.4 775 L859.8 776.4 L860.1 777.9 L860.5 779.4 L860.9 780.8 L861.3 782.3 L861.7 783.8 L862.1 785.2 L862.5 786.7 L862.9 788.2 L863.3 789.6 L863.7 791.1 L864.1 792.5 L864.4 793.3 L864.6 794 L865 795.4 L865.5 796.8 L866 798.3 L866.5 799.7 L867 801.1 L867.5 802.6 L868 804 L868.5 805.4 L869 806.9 L869.5 808.3 L870 809.8 L870.4 811.2 L870.5 811.5 L870.8 812.7 L871.2 814.2 L871.6 815.6 L871.9 817.1 L872.3 818.6 L872.6 820.1 L872.9 821.6 L873.3 823.1 L873.6 824.6 L873.9 826 L874.2 827.5 L874.5 829 L874.8 830.5 L875.1 832 L875.1 832.2 L875.4 833.5 L875.6 835 L875.9 836.5 L876.2 838 L876.4 839.5 L876.7 841 L877 842.5 L877.2 844 L877.5 845.5 L877.7 847 L878 848.5 L878.3 850 L878.5 851.5 L878.8 853 L879 854 L879.1 854.5 L879.4 856 L879.7 857.5 L879.9 859 L880.2 860.5 L880.5 862 L880.8 863.5 L881.1 865 L881.4 866.5 L881.7 868 L882.1 869.5 L882.4 870.9 L882.8 872.4 L882.9 872.6 L883.3 873.8 L883.8 875.3 L884.3 876.8 L884.9 878.3 L885.5 879.7 L886.1 881.1 L886.9 882.4 L887.6 883.5 L887.6 883.6 L888.6 884.7 L889.7 885.7 L890.9 886.7 L892.1 887.7 L893.4 888.6 L893.8 888.9 L894.6 889.5 L895.9 890.4 L897.1 891.2 L898.4 892 L899.7 892.8 L901 893.6 L902.3 894.4 L903.6 895.2 L904.8 895.9 L904.9 896 L906.2 896.8 L907.5 897.7 L908.7 898.5 L910 899.4 L911.3 900.2 L912.5 901.1 L913.8 901.9 L914.2 902.3 L915 902.8 L916.3 903.7 L917.5 904.6 L918.7 905.4 L920 906.3 L921.2 907.2 L922.5 908.1 L923.7 909 L924.9 909.9 L926.2 910.8 L927.4 911.7 L928.6 912.6 L928.6 635 L929.3 636.4 L930 637.7 L930.7 639 L931.5 640.4 L932.2 641.7 L933 643 L933.2 643.3 L933.8 644.3 L934.7 645.6 L935.5 646.8 L936.4 648.1 L937.3 649.3 L938.2 650.5 L939 651.8 L939.9 653 L940.7 654.2 L940.8 654.3 L941.6 655.6 L942.5 656.8 L943.3 658.1 L944.2 659.4 L945 660.6 L945.8 661.9 L946.7 663.2 L947.5 664.5 L948.3 665.8 L948.3 665.9 L949 667.1 L949.8 668.4 L950.6 669.7 L951.3 671 L952.1 672.4 L952.8 673.7 L953.5 675.1 L954.2 676.4 L954.9 677.8 L955.6 679.1 L956 679.9 L956.3 680.5 L956.9 681.9 L957.6 683.3 L958.2 684.6 L958.8 686 L959.4 687.4 L960 688.8 L960.6 690.2 L961.2 691.6 L961.8 693.1 L962.3 694.5 L962.9 695.9 L963.5 697.3 L963.6 697.7 L964 698.7 L964.5 700.1 L965.1 701.6 L965.6 703 L966.1 704.4 L966.6 705.9 L967.1 707.3 L967.6 708.8 L968.1 710.2 L968.5 711.7 L969 713.1 L969.5 714.6 L970 716 L970.4 717.4 L970.9 718.9 L971.1 719.5 L971.4 720.3 L971.9 721.8 L972.3 723.2 L972.8 724.7 L973.3 726.1 L973.7 727.6 L974.2 729 L974.7 730.5 L975.1 732 L975.6 733.4 L976 734.9 L976.4 736.3 L976.9 737.8 L977.3 739.2 L977.7 740.7 L978.1 742.2 L978.5 743.6 L978.7 744.4 L978.9 745.1 L979.3 746.6 L979.7 748.1 L980 749.5 L980.4 751 L980.7 752.5 L981.1 754 L981.4 755.5 L981.8 757 L982.1 758.4 L982.4 759.9 L982.8 761.4 L983.1 762.9 L983.4 764.4 L983.8 765.9 L984.1 767.4 L984.5 768.8 L984.5 769 L984.9 770.3 L985.2 771.8 L985.6 773.3 L985.9 774.8 L986.3 776.2 L986.7 777.7 L987 779.2 L987.4 780.7 L987.8 782.1 L988.2 783.6 L988.6 785.1 L989 786.6 L989.3 788 L989.8 789.5 L990.2 791 L990.6 792.4 L990.8 793.3 L991 793.9 L991.5 795.3 L991.9 796.8 L992.4 798.2 L992.9 799.7 L993.4 801.1 L993.9 802.6 L994.4 804 L994.9 805.4 L995.4 806.9 L995.9 808.3 L996.4 809.8 L996.8 811.2 L996.9 811.5 L997.2 812.7 L997.6 814.2 L998 815.7 L998.3 817.2 L998.7 818.6 L999 820.1 L999.4 821.6 L999.7 823.1 L1000 824.6 L1000.3 826.1 L1000.6 827.6 L1000.9 829.1 L1001.2 830.6 L1001.5 832.1 L1001.5 832.2 L1001.8 833.6 L1002.1 835.1 L1002.3 836.6 L1002.6 838.1 L1002.9 839.7 L1003.1 841.2 L1003.4 842.7 L1003.6 844.2 L1003.9 845.7 L1004.2 847.2 L1004.4 848.7 L1004.7 850.2 L1005 851.7 L1005.2 853.2 L1005.4 854 L1005.5 854.7 L1005.8 856.2 L1006.1 857.7 L1006.4 859.2 L1006.6 860.7 L1006.9 862.3 L1007.2 863.8 L1007.5 865.3 L1007.8 866.8 L1008.2 868.3 L1008.5 869.7 L1008.9 871.2 L1009.3 872.6 L1009.3 872.7 L1009.8 874.1 L1010.3 875.6 L1010.8 877.1 L1011.4 878.6 L1012 880 L1012.7 881.3 L1013.4 882.6 L1014 883.5 L1014.2 883.8 L1015.2 884.9 L1016.3 886 L1017.6 886.9 L1018.8 887.9 L1020.1 888.8 L1020.2 888.9 L1021.3 889.7 L1022.6 890.5 L1023.9 891.3 L1025.2 892.1 L1026.5 892.9 L1027.9 893.6 L1029.2 894.4 L1030.5 895.2 L1031.5 895.8 L1031.8 896 L1033.1 896.8 L1034.4 897.6 L1035.7 898.4 L1037 899.3 L1038.2 900.1 L1039.5 900.9 L1040.8 901.8 L1041.2 902 L1042.1 902.6 L1043.3 903.5 L1044.6 904.3 L1045.9 905.2 L1047.1 906.1 L1048.4 906.9 L1049.7 907.8 L1050.9 908.7 L1052.2 909.5 L1053.4 910.4 L1054.7 911.3 L1055.9 912.2 L1055.9 635 L1056.6 636.4 L1057.3 637.7 L1058 639.1 L1058.7 640.4 L1059.5 641.7 L1060.3 643 L1060.4 643.3 L1061 644.3 L1061.9 645.6 L1062.7 646.8 L1063.6 648.1 L1064.4 649.3 L1065.3 650.6 L1066.2 651.8 L1067.1 653.1 L1067.8 654.2 L1067.9 654.3 L1068.7 655.6 L1069.6 656.9 L1070.4 658.1 L1071.3 659.4 L1072.1 660.7 L1072.9 662 L1073.7 663.3 L1074.5 664.6 L1075.3 665.9 L1075.3 665.9 L1076 667.2 L1076.8 668.5 L1077.6 669.8 L1078.3 671.1 L1079 672.5 L1079.7 673.8 L1080.5 675.2 L1081.1 676.5 L1081.8 677.9 L1082.5 679.2 L1082.8 679.9 L1083.1 680.6 L1083.8 682 L1084.4 683.4 L1085 684.7 L1085.6 686.1 L1086.2 687.5 L1086.8 688.9 L1087.4 690.3 L1088 691.8 L1088.6 693.2 L1089.1 694.6 L1089.7 696 L1090.2 697.4 L1090.3 697.7 L1090.7 698.8 L1091.3 700.3 L1091.8 701.7 L1092.3 703.1 L1092.8 704.6 L1093.3 706 L1093.8 707.4 L1094.3 708.9 L1094.7 710.3 L1095.2 711.8 L1095.7 713.2 L1096.1 714.7 L1096.6 716.1 L1097.1 717.5 L1097.5 719 L1097.7 719.5 L1098 720.4 L1098.5 721.9 L1098.9 723.3 L1099.4 724.8 L1099.8 726.2 L1100.3 727.7 L1100.8 729.1 L1101.2 730.6 L1101.7 732 L1102.1 733.5 L1102.5 735 L1103 736.4 L1103.4 737.9 L1103.8 739.3 L1104.2 740.8 L1104.6 742.3 L1105 743.7 L1105.2 744.4 L1105.4 745.2 L1105.8 746.7 L1106.1 748.1 L1106.5 749.6 L1106.8 751.1 L1107.2 752.6 L1107.5 754 L1107.8 755.5 L1108.2 757 L1108.5 758.5 L1108.8 760 L1109.2 761.5 L1109.5 763 L1109.8 764.4 L1110.2 765.9 L1110.5 767.4 L1110.9 768.9 L1110.9 769 L1111.2 770.4 L1111.6 771.8 L1111.9 773.3 L1112.3 774.8 L1112.7 776.3 L1113 777.7 L1113.4 779.2 L1113.7 780.7 L1114.1 782.2 L1114.5 783.6 L1114.9 785.1 L1115.2 786.6 L1115.6 788 L1116 789.5 L1116.4 791 L1116.9 792.4 L1117.1 793.3 L1117.3 793.9 L1117.7 795.3 L1118.2 796.8 L1118.6 798.2 L1119.1 799.7 L1119.6 801.1 L1120.1 802.6 L1120.6 804 L1121.1 805.4 L1121.6 806.9 L1122.1 808.3 L1122.6 809.8 L1123 811.2 L1123.1 811.5 L1123.4 812.7 L1123.8 814.2 L1124.2 815.7 L1124.5 817.2 L1124.9 818.6 L1125.2 820.1 L1125.6 821.6 L1125.9 823.1 L1126.2 824.6 L1126.5 826.1 L1126.8 827.6 L1127.1 829.1 L1127.4 830.6 L1127.7 832.1 L1127.7 832.2 L1128 833.6 L1128.3 835.1 L1128.5 836.6 L1128.8 838.1 L1129.1 839.6 L1129.3 841.1 L1129.6 842.7 L1129.8 844.2 L1130.1 845.7 L1130.4 847.2 L1130.6 848.7 L1130.9 850.2 L1131.2 851.7 L1131.4 853.2 L1131.6 854 L1131.7 854.7 L1132 856.2 L1132.3 857.7 L1132.6 859.2 L1132.8 860.7 L1133.1 862.2 L1133.4 863.7 L1133.7 865.3 L1134 866.7 L1134.4 868.2 L1134.7 869.7 L1135.1 871.2 L1135.5 872.6 L1135.5 872.6 L1136 874.1 L1136.4 875.6 L1137 877.1 L1137.6 878.5 L1138.2 880 L1138.9 881.3 L1139.6 882.6 L1140.2 883.5 L1140.4 883.8 L1141.4 884.9 L1142.5 885.9 L1143.7 886.9 L1145 887.9 L1146.2 888.8 L1146.4 888.9 L1147.5 889.7 L1148.8 890.5 L1150.1 891.3 L1151.4 892 L1152.7 892.8 L1154.1 893.5 L1155.4 894.3 L1156.7 895.1 L1157.8 895.7 L1158 895.8 L1159.3 896.6 L1160.6 897.4 L1161.9 898.3 L1163.2 899.1 L1164.5 899.9 L1165.8 900.7 L1167.1 901.5 L1167.5 901.8 L1168.4 902.4 L1169.7 903.2 L1170.9 904.1 L1172.2 904.9 L1173.5 905.7 L1174.7 906.6 L1176 907.5 L1177.3 908.3 L1178.5 909.2 L1179.8 910 L1181 910.9 L1182.3 911.8 L1182.3 635 L1183 636.4 L1183.7 637.7 L1184.4 639.1 L1185.1 640.4 L1185.9 641.7 L1186.6 643 L1186.8 643.3 L1187.4 644.3 L1188.2 645.6 L1189.1 646.8 L1189.9 648.1 L1190.8 649.3 L1191.7 650.6 L1192.6 651.8 L1193.4 653.1 L1194.1 654.2 L1194.3 654.4 L1195.1 655.6 L1195.9 656.9 L1196.8 658.2 L1197.6 659.4 L1198.4 660.7 L1199.2 662 L1200 663.3 L1200.8 664.6 L1201.6 665.9 L1201.6 665.9 L1202.4 667.2 L1203.1 668.5 L1203.9 669.8 L1204.6 671.2 L1205.3 672.5 L1206 673.8 L1206.8 675.2 L1207.4 676.5 L1208.1 677.9 L1208.8 679.3 L1209.1 679.9 L1209.4 680.6 L1210.1 682 L1210.7 683.4 L1211.3 684.8 L1211.9 686.2 L1212.5 687.6 L1213.1 689 L1213.7 690.4 L1214.3 691.8 L1214.8 693.2 L1215.4 694.6 L1215.9 696 L1216.5 697.4 L1216.6 697.7 L1217 698.9 L1217.5 700.3 L1218 701.7 L1218.5 703.1 L1219 704.6 L1219.5 706 L1220 707.5 L1220.5 708.9 L1221 710.3 L1221.4 711.8 L1221.9 713.2 L1222.4 714.7 L1222.8 716.1 L1223.3 717.6 L1223.8 719 L1223.9 719.5 L1224.2 720.5 L1224.7 721.9 L1225.1 723.4 L1225.6 724.8 L1226 726.3 L1226.5 727.7 L1227 729.2 L1227.4 730.6 L1227.9 732.1 L1228.3 733.5 L1228.7 735 L1229.2 736.4 L1229.6 737.9 L1230 739.3 L1230.4 740.8 L1230.8 742.3 L1231.2 743.7 L1231.4 744.4 L1231.6 745.2 L1232 746.7 L1232.3 748.1 L1232.7 749.6 L1233 751.1 L1233.3 752.6 L1233.7 754.1 L1234 755.5 L1234.3 757 L1234.7 758.5 L1235 760 L1235.3 761.5 L1235.6 763 L1236 764.4 L1236.3 765.9 L1236.7 767.4 L1237 768.9 L1237 769 L1237.4 770.4 L1237.7 771.8 L1238.1 773.3 L1238.4 774.8 L1238.8 776.3 L1239.1 777.7 L1239.5 779.2 L1239.9 780.7 L1240.2 782.2 L1240.6 783.6 L1241 785.1 L1241.4 786.6 L1241.8 788.1 L1242.2 789.5 L1242.6 791 L1243 792.4 L1243.2 793.3 L1243.4 793.9 L1243.8 795.3 L1244.3 796.8 L1244.8 798.2 L1245.2 799.7 L1245.7 801.1 L1246.2 802.6 L1246.7 804 L1247.2 805.4 L1247.7 806.9 L1248.2 808.3 L1248.7 809.8 L1249.1 811.3 L1249.2 811.5 L1249.5 812.7 L1249.9 814.2 L1250.3 815.7 L1250.6 817.2 L1251 818.7 L1251.3 820.1 L1251.7 821.6 L1252 823.1 L1252.3 824.6 L1252.6 826.1 L1252.9 827.6 L1253.2 829.1 L1253.5 830.6 L1253.8 832.1 L1253.8 832.2 L1254.1 833.6 L1254.4 835.1 L1254.6 836.7 L1254.9 838.2 L1255.2 839.7 L1255.4 841.2 L1255.7 842.7 L1255.9 844.2 L1256.2 845.7 L1256.5 847.2 L1256.7 848.7 L1257 850.2 L1257.3 851.7 L1257.6 853.2 L1257.7 854 L1257.8 854.7 L1258.1 856.2 L1258.4 857.7 L1258.7 859.3 L1258.9 860.8 L1259.2 862.3 L1259.5 863.8 L1259.8 865.3 L1260.1 866.8 L1260.5 868.3 L1260.8 869.8 L1261.2 871.2 L1261.6 872.6 L1261.6 872.7 L1262.1 874.1 L1262.6 875.6 L1263.1 877.1 L1263.7 878.6 L1264.3 880 L1265 881.4 L1265.7 882.7 L1266.3 883.5 L1266.5 883.8 L1267.5 884.9 L1268.6 886 L1269.9 887 L1271.1 887.9 L1272.4 888.8 L1272.5 888.9 L1273.6 889.7 L1274.9 890.5 L1276.2 891.3 L1277.6 892 L1278.9 892.8 L1280.3 893.5 L1281.6 894.2 L1283 895 L1284 895.6 L1284.3 895.8 L1285.6 896.6 L1286.9 897.3 L1288.2 898.1 L1289.5 898.9 L1290.8 899.8 L1292.1 900.6 L1293.4 901.4 L1293.7 901.6 L1294.7 902.2 L1296 903 L1297.3 903.9 L1298.5 904.7 L1299.8 905.5 L1301.1 906.4 L1302.4 907.2 L1303.6 908.1 L1304.9 908.9 L1306.2 909.8 L1307.4 910.6 L1308.7 911.5 L1308.7 635 L1309.4 636.4 L1310.1 637.7 L1310.8 639.1 L1311.5 640.4 L1312.3 641.7 L1313 643 L1313.2 643.3 L1313.8 644.3 L1314.6 645.6 L1315.5 646.8 L1316.3 648.1 L1317.2 649.3 L1318.1 650.6 L1318.9 651.8 L1319.8 653.1 L1320.5 654.2 L1320.6 654.4 L1321.5 655.6 L1322.3 656.9 L1323.1 658.2 L1324 659.4 L1324.8 660.7 L1325.6 662 L1326.4 663.3 L1327.2 664.6 L1328 665.9 L1328 665.9 L1328.7 667.2 L1329.5 668.5 L1330.2 669.8 L1331 671.2 L1331.7 672.5 L1332.4 673.8 L1333.1 675.2 L1333.8 676.5 L1334.5 677.9 L1335.1 679.3 L1335.4 679.9 L1335.8 680.6 L1336.4 682 L1337.1 683.4 L1337.7 684.8 L1338.3 686.2 L1338.9 687.6 L1339.5 689 L1340 690.4 L1340.6 691.8 L1341.2 693.2 L1341.7 694.6 L1342.3 696 L1342.8 697.5 L1342.9 697.7 L1343.3 698.9 L1343.9 700.3 L1344.4 701.7 L1344.9 703.2 L1345.4 704.6 L1345.9 706 L1346.4 707.5 L1346.8 708.9 L1347.3 710.4 L1347.8 711.8 L1348.2 713.2 L1348.7 714.7 L1349.2 716.1 L1349.6 717.6 L1350.1 719 L1350.2 719.5 L1350.5 720.5 L1351 721.9 L1351.5 723.4 L1351.9 724.8 L1352.4 726.3 L1352.8 727.7 L1353.3 729.2 L1353.7 730.6 L1354.2 732.1 L1354.6 733.5 L1355.1 735 L1355.5 736.4 L1355.9 737.9 L1356.3 739.4 L1356.7 740.8 L1357.1 742.3 L1357.5 743.7 L1357.7 744.4 L1357.9 745.2 L1358.3 746.7 L1358.6 748.2 L1359 749.6 L1359.3 751.1 L1359.7 752.6 L1360 754.1 L1360.3 755.6 L1360.7 757 L1361 758.5 L1361.3 760 L1361.6 761.5 L1362 763 L1362.3 764.5 L1362.6 765.9 L1363 767.4 L1363.3 768.9 L1363.4 769 L1363.7 770.4 L1364 771.8 L1364.4 773.3 L1364.7 774.8 L1365.1 776.3 L1365.5 777.7 L1365.8 779.2 L1366.2 780.7 L1366.6 782.2 L1366.9 783.6 L1367.3 785.1 L1367.7 786.6 L1368.1 788.1 L1368.5 789.5 L1368.9 791 L1369.3 792.4 L1369.5 793.3 L1369.7 793.9 L1370.1 795.3 L1370.6 796.8 L1371.1 798.2 L1371.5 799.7 L1372 801.1 L1372.5 802.6 L1373 804 L1373.5 805.4 L1374 806.9 L1374.5 808.3 L1375 809.8 L1375.4 811.2 L1375.5 811.5 L1375.8 812.7 L1376.2 814.2 L1376.6 815.7 L1376.9 817.2 L1377.3 818.6 L1377.6 820.1 L1378 821.6 L1378.3 823.1 L1378.6 824.6 L1378.9 826.1 L1379.2 827.6 L1379.5 829.1 L1379.8 830.6 L1380.1 832.1 L1380.1 832.2 L1380.4 833.6 L1380.7 835.1 L1380.9 836.6 L1381.2 838.1 L1381.5 839.6 L1381.7 841.1 L1382 842.7 L1382.2 844.2 L1382.5 845.7 L1382.8 847.2 L1383 848.7 L1383.3 850.2 L1383.6 851.7 L1383.8 853.2 L1384 854 L1384.1 854.7 L1384.4 856.2 L1384.7 857.7 L1385 859.2 L1385.2 860.7 L1385.5 862.2 L1385.8 863.8 L1386.1 865.3 L1386.4 866.8 L1386.8 868.2 L1387.1 869.7 L1387.5 871.2 L1387.9 872.6 L1387.9 872.6 L1388.4 874.1 L1388.8 875.6 L1389.4 877.1 L1390 878.5 L1390.6 880 L1391.3 881.3 L1392 882.6 L1392.6 883.5 L1392.8 883.8 L1393.8 884.9 L1394.9 886 L1396.1 886.9 L1397.4 887.9 L1398.6 888.8 L1398.8 888.9 L1399.9 889.7 L1401.2 890.5 L1402.5 891.2 L1403.8 892 L1405.2 892.7 L1405.6 893" fill="none" stroke="#0a72ba" stroke-width="6.9" stroke-linejoin="round"/>
<path d="M188.4 621.9 L189.9 622.3 L191.4 622.7 L192.8 623.2 L194.3 623.7 L195.7 624.2 L197.1 624.8 L198.5 625.4 L199.9 626 L200.5 626.3 L201.2 626.6 L202.5 627.3 L203.9 628.1 L205.2 628.9 L206.4 629.7 L207.7 630.6 L209 631.5 L210.2 632.4 L211.4 633.3 L211.4 633.3 L212.6 634.2 L213.8 635.2 L214.9 636.2 L216.1 637.2 L217.2 638.2 L218.3 639.2 L219.4 640.3 L220.5 641.4 L221.5 642.5 L222.3 643.4 L222.5 643.6 L223.5 644.8 L224.4 646 L225.3 647.2 L226.3 648.4 L227.1 649.6 L228 650.9 L228.9 652.2 L229.7 653.5 L230.5 654.8 L231.3 656 L231.6 656.6 L232 657.3 L232.8 658.7 L233.5 660 L234.2 661.3 L234.9 662.7 L235.6 664.1 L236.2 665.4 L236.9 666.8 L237.5 668.2 L238.2 669.6 L238.8 670.9 L239.4 672.2 L239.5 672.3 L240.1 673.7 L240.7 675.1 L241.3 676.5 L241.9 677.9 L242.5 679.3 L243.1 680.7 L243.7 682.1 L244.3 683.5 L244.9 684.9 L245.5 686.3 L246 687.7 L246.6 689.1 L247.1 690.5 L247.2 690.8 L247.6 692 L248.1 693.4 L248.6 694.8 L249.1 696.2 L249.6 697.7 L250.1 699.1 L250.6 700.6 L251.1 702 L251.5 703.5 L252 704.9 L252.4 706.4 L252.9 707.8 L253.3 709.3 L253.4 709.5 L253.8 710.7 L254.2 712.2 L254.6 713.6 L255.1 715.1 L255.5 716.5 L255.9 718 L256.3 719.5 L256.8 720.9 L257.2 722.4 L257.6 723.8 L258 725.3 L258.4 726.8 L258.8 728.2 L259.2 729.7 L259.6 731.2 L259.6 731.3 L260 732.6 L260.3 734.1 L260.7 735.6 L261.1 737 L261.5 738.5 L261.9 740 L262.2 741.5 L262.6 742.9 L263 744.4 L263.3 745.9 L263.7 747.4 L264.1 748.8 L264.4 750.3 L264.8 751.8 L265.1 753.3 L265.5 754.7 L265.8 756.1 L265.8 756.2 L266.2 757.7 L266.5 759.2 L266.9 760.7 L267.2 762.1 L267.5 763.6 L267.9 765.1 L268.2 766.6 L268.5 768.1 L268.9 769.5 L269.2 771 L269.5 772.5 L269.9 774 L270 774.5 L270.2 775.5 L270.6 776.9 L270.9 778.4 L271.2 779.9 L271.5 781.4 L271.9 782.9 L272.2 784.4 L272.5 785.8 L272.9 787.3 L273.2 788.8 L273.6 790.2 L273.6 790.3 L274 791.7 L274.4 793.2 L274.8 794.7 L275.2 796.1 L275.6 797.6 L276.1 799 L276.5 800.5 L277.2 801.8 L278 803.2 L278.6 804.6 L279.1 806 L279.3 806.5 L279.5 807.4 L279.9 808.9 L280.2 810.3 L280.5 811.8 L280.7 813.3 L281 814.8 L281.2 816.3 L281.4 817.9 L281.6 819.4 L281.9 820.9 L282.1 822.4 L282.2 822.9 L282.4 823.9 L282.6 825.4 L282.9 826.9 L283.2 828.4 L283.4 829.9 L283.7 831.4 L284 832.9 L284.2 834.4 L284.5 835.8 L284.8 837.3 L285.1 838.8 L285.3 840 L285.4 840.3 L285.7 841.8 L285.9 843.3 L286.2 844.8 L286.5 846.3 L286.8 847.8 L287.2 849.3 L287.5 850.7 L287.9 852.2 L288.3 853.7 L288.4 854 L288.7 855.1 L289.2 856.6 L289.7 858.1 L290.3 859.6 L290.9 861 L291.6 862.3 L292.3 863.3 L292.4 863.4 L293.4 864.5 L294.5 865.5 L295.8 866.5 L297.1 867.3 L298.5 868 L298.5 868 L299.8 868.5 L301.3 869 L302.7 869.4 L304.2 869.8 L305.7 870.1 L307.2 870.5 L308.7 870.9 L309.4 871.1 L310.2 871.3 L311.6 871.8 L313.1 872.2 L314.5 872.7 L316 873.2 L317.4 873.7 L318.8 874.3 L320.2 874.8 L320.3 874.9 L321.5 875.5 L322.9 876.2 L324.2 876.9 L325.6 877.6 L326.9 878.4 L328.2 879.2 L329.4 880.1 L330.7 880.9 L331.1 881.2 L331.9 881.8 L333.1 882.7 L334.3 883.6 L335.5 884.6 L336.6 885.6 L337.8 886.6 L338.9 887.6 L340.1 888.6 L340.5 888.9 L341.3 889.5 L342.4 890.5 L343.6 891.5 L344.8 892.5 L345.9 893.5 L347.1 894.4 L348.2 895.2 L348.3 895.3 L349.6 896.2 L350.8 897 L352.1 897.9 L353.4 898.7 L354.7 899.5 L356 900.2 L357.3 901 L357.3 635 L357.8 636.4 L358.4 637.9 L358.9 639.3 L359.5 640.7 L360.1 642.1 L360.7 643.4 L361.4 644.8 L361.5 645 L362.1 646.1 L362.8 647.5 L363.6 648.8 L364.4 650.1 L365.3 651.3 L366.1 652.6 L366.9 653.9 L367.7 655.2 L368.5 656.5 L368.5 656.6 L369.2 657.8 L369.9 659.2 L370.6 660.5 L371.3 661.9 L372 663.2 L372.7 664.6 L373.3 666 L374 667.3 L374.6 668.7 L375.3 670.1 L375.9 671.5 L376.2 672.2 L376.5 672.9 L377.1 674.3 L377.7 675.7 L378.3 677.1 L378.8 678.5 L379.4 679.9 L379.9 681.3 L380.5 682.7 L381 684.1 L381.6 685.6 L382.1 687 L382.6 688.4 L383.1 689.9 L383.6 691.3 L384 692.4 L384.1 692.7 L384.6 694.2 L385.1 695.6 L385.6 697 L386 698.5 L386.5 699.9 L387 701.4 L387.4 702.8 L387.9 704.3 L388.4 705.7 L388.8 707.2 L389.2 708.6 L389.7 710.1 L390.1 711.5 L390.5 713 L391 714.4 L391.4 715.9 L391.8 717.3 L391.8 717.4 L392.2 718.8 L392.6 720.3 L393.1 721.7 L393.5 723.2 L393.9 724.7 L394.3 726.1 L394.7 727.6 L395.1 729.1 L395.5 730.5 L395.9 732 L396.2 733.5 L396.6 734.9 L397 736.4 L397.4 737.9 L397.8 739.3 L398.1 740.8 L398.5 742.3 L398.9 743.8 L399.2 745.2 L399.6 746.7 L399.6 746.8 L399.9 748.2 L400.3 749.7 L400.6 751.2 L400.9 752.6 L401.3 754.1 L401.6 755.6 L401.9 757.1 L402.2 758.6 L402.6 760.1 L402.9 761.5 L403.2 763 L403.5 764.5 L403.8 766 L404.2 767.5 L404.5 769 L404.5 769 L404.8 770.4 L405.2 771.9 L405.5 773.4 L405.8 774.9 L406.1 776.4 L406.5 777.9 L406.8 779.3 L407.1 780.8 L407.5 782.3 L407.8 783.8 L408.1 785.3 L408.5 786.7 L408.8 788.2 L409.2 789.7 L409.3 790.2 L409.5 791.2 L409.9 792.6 L410.3 794.1 L410.6 795.6 L411 797.1 L411.4 798.5 L411.8 800 L412.5 801.4 L413.2 802.7 L413.8 804.1 L414.5 805.5 L415 806.9 L415.5 808.4 L415.5 808.5 L415.9 809.8 L416.2 811.3 L416.5 812.7 L416.9 814.2 L417.2 815.7 L417.4 817.2 L417.7 818.7 L417.9 820.2 L418.2 821.7 L418.4 823.2 L418.7 824.7 L418.9 826.3 L419.2 827.8 L419.4 829.1 L419.4 829.3 L419.7 830.8 L419.9 832.3 L420.2 833.8 L420.4 835.3 L420.6 836.8 L420.9 838.3 L421.1 839.8 L421.3 841.3 L421.6 842.8 L421.8 844.3 L422.1 845.8 L422.4 847.3 L422.5 847.7 L422.7 848.7 L423 850.2 L423.3 851.7 L423.7 853.2 L424 854.7 L424.4 856.2 L424.9 857.7 L425.3 859.1 L425.7 860.2 L425.8 860.5 L426.4 861.9 L427 863.4 L427.7 864.8 L428.5 866.2 L429.4 867.5 L430.3 868.6 L431.1 869.5 L431.2 869.6 L432.3 870.5 L433.6 871.2 L435 871.9 L436.4 872.5 L437.9 873.1 L439.4 873.7 L440.4 874.2 L440.8 874.4 L442.2 875 L443.6 875.6 L445 876.1 L446.4 876.7 L447.8 877.2 L449.2 877.8 L450.6 878.5 L451.3 878.8 L452 879.1 L453.3 879.9 L454.6 880.6 L455.9 881.5 L457.2 882.3 L458.4 883.1 L459.7 884 L460.9 884.9 L462.2 885.8 L462.2 885.8 L463.4 886.7 L464.6 887.6 L465.8 888.6 L466.9 889.5 L468.1 890.5 L469.3 891.5 L470.5 892.4 L471.7 893.4 L472.9 894.3 L473.1 894.4 L474.1 895.1 L475.4 896 L476.7 896.8 L477.9 897.6 L479.2 898.4 L480.5 899.2 L481.8 900 L483.2 900.7 L484.5 901.5 L485.8 902.2 L487.2 902.9 L487.2 635 L487.8 636.4 L488.4 637.8 L489 639.2 L489.6 640.6 L490.2 642 L490.9 643.3 L491.5 644.7 L491.7 645 L492.2 646 L493 647.4 L493.7 648.7 L494.5 650 L495.3 651.2 L496.1 652.5 L497 653.8 L497.7 655.1 L498.5 656.4 L499.3 657.7 L499.5 658.2 L500 659.1 L500.7 660.4 L501.4 661.8 L502.1 663.1 L502.8 664.5 L503.4 665.8 L504.1 667.2 L504.8 668.6 L505.4 670 L506 671.4 L506.6 672.7 L507.2 674.1 L507.3 674.5 L507.7 675.6 L508.2 677 L508.7 678.4 L509.2 679.8 L509.7 681.3 L510.1 682.7 L510.6 684.2 L511 685.6 L511.4 687.1 L511.9 688.5 L512.3 690 L512.7 691.5 L513.2 692.9 L513.6 694.4 L514.1 695.8 L514.5 697.3 L514.6 697.5 L515 698.7 L515.5 700.1 L515.9 701.6 L516.4 703 L516.9 704.5 L517.4 705.9 L517.9 707.3 L518.4 708.8 L518.8 710.2 L519.3 711.7 L519.8 713.1 L520.3 714.5 L520.7 716 L521.2 717.4 L521.5 718.5 L521.6 718.9 L522 720.3 L522.5 721.8 L522.9 723.2 L523.3 724.7 L523.7 726.2 L524.2 727.6 L524.6 729.1 L525 730.5 L525.4 732 L525.8 733.5 L526.2 734.9 L526.6 736.4 L526.9 737.9 L527.3 739.3 L527.5 740 L527.7 740.8 L528.1 742.3 L528.5 743.7 L528.8 745.2 L529.2 746.7 L529.6 748.1 L529.9 749.6 L530.3 751.1 L530.7 752.6 L531 754 L531.4 755.5 L531.7 757 L532.1 758.5 L532.4 759.9 L532.8 761.4 L533.1 762.9 L533.5 764.4 L533.6 765 L533.8 765.9 L534.1 767.3 L534.5 768.8 L534.8 770.3 L535.1 771.8 L535.4 773.3 L535.7 774.8 L536 776.2 L536.3 777.7 L536.7 779.2 L537 780.7 L537.3 782.2 L537.6 783.6 L538 785.1 L538.2 786 L538.3 786.6 L538.7 788.1 L539.1 789.5 L539.4 791 L539.8 792.5 L540.2 793.9 L540.7 795.4 L541 796.5 L541.1 796.8 L541.6 798.3 L542.1 799.7 L542.7 801.1 L543.3 802.5 L544.2 803.8 L545.2 805 L546 806.3 L546.7 807.7 L547.4 809 L547.7 809.9 L547.9 810.4 L548.3 811.9 L548.7 813.3 L549 814.8 L549.3 816.3 L549.6 817.8 L549.9 819.4 L550.2 820.9 L550.4 822.4 L550.6 823.3 L550.7 823.9 L551 825.4 L551.3 826.9 L551.6 828.4 L551.8 830 L552.1 831.5 L552.3 833 L552.6 834.5 L552.8 836 L552.9 836.6 L553 837.5 L553.2 839 L553.5 840.5 L553.6 842.1 L553.8 843.6 L554 845.1 L554.2 846.6 L554.4 848.1 L554.6 849.7 L554.8 851.2 L555.1 852.7 L555.1 853 L555.3 854.2 L555.5 855.7 L555.8 857.2 L556 858.8 L556.3 860.3 L556.6 861.8 L556.9 863.3 L557.3 864.7 L557.3 864.9 L557.7 866.2 L558.2 867.9 L558.7 869.4 L559.4 870.9 L560.1 872 L560.5 872.5 L560.9 872.9 L562.1 873.6 L563.4 874.1 L564.9 874.6 L566.5 875.1 L568.2 875.6 L569.7 876.1 L571 876.5 L571.2 876.6 L572.7 877.1 L574.1 877.7 L575.6 878.2 L577 878.7 L578.4 879.3 L579.8 879.8 L581.2 880.5 L581.9 880.8 L582.6 881.1 L583.9 881.9 L585.2 882.7 L586.5 883.6 L587.7 884.4 L589 885.3 L590.2 886.3 L591.4 887.2 L592.7 888.1 L592.8 888.2 L593.9 889 L595.1 889.9 L596.3 890.9 L597.5 891.8 L598.7 892.8 L599.9 893.8 L601.1 894.7 L602.3 895.7 L603.5 896.6 L603.7 896.7 L604.8 897.5 L606 898.4 L607.2 899.3 L608.5 900.2 L609.7 901 L611 901.9 L612.3 902.8 L613.5 903.6 L614.8 904.5 L614.8 635 L615.4 636.4 L616.1 637.8 L616.7 639.1 L617.4 640.5 L618.1 641.9 L618.8 643.2 L618.8 643.3 L619.5 644.5 L620.3 645.8 L621.1 647.1 L621.9 648.4 L622.7 649.7 L623.5 651 L624.3 652.3 L625.1 653.6 L625.8 654.9 L626.4 655.8 L626.6 656.2 L627.3 657.5 L628.1 658.9 L628.8 660.2 L629.5 661.6 L630.2 662.9 L630.9 664.2 L631.6 665.6 L632.3 667 L633 668.3 L633.6 669.7 L633.7 669.8 L634.3 671 L634.9 672.4 L635.6 673.8 L636.2 675.2 L636.9 676.6 L637.5 677.9 L638.1 679.3 L638.7 680.7 L639.3 682.1 L639.9 683.5 L640.4 684.9 L641 686.3 L641.2 686.9 L641.5 687.8 L642.1 689.2 L642.6 690.6 L643.1 692 L643.7 693.5 L644.2 694.9 L644.7 696.3 L645.2 697.8 L645.6 699.2 L646.1 700.6 L646.6 702.1 L647.1 703.5 L647.5 705 L648 706.4 L648.4 707.9 L648.7 708.6 L648.9 709.3 L649.3 710.8 L649.8 712.2 L650.2 713.7 L650.6 715.1 L651.1 716.6 L651.5 718.1 L651.9 719.5 L652.3 721 L652.7 722.4 L653.1 723.9 L653.5 725.4 L654 726.8 L654.4 728.3 L654.8 729.8 L655.2 731.2 L655.6 732.7 L656 734.2 L656.2 735 L656.4 735.6 L656.8 737.1 L657.2 738.6 L657.6 740 L658 741.5 L658.3 743 L658.7 744.4 L659.1 745.9 L659.5 747.4 L659.9 748.8 L660.3 750.3 L660.7 751.8 L661.1 753.2 L661.5 754.7 L661.8 756.2 L662.2 757.6 L662.6 759.1 L663 760.6 L663.3 762.1 L663.6 763 L663.7 763.5 L664.1 765 L664.5 766.5 L664.8 767.9 L665.2 769.4 L665.6 770.9 L665.9 772.4 L666.3 773.8 L666.7 775.3 L667 776.8 L667.4 778.3 L667.8 779.7 L668.1 781.2 L668.5 782.7 L668.8 784.2 L669.1 785.7 L669.5 787.1 L669.7 787.9 L669.8 788.6 L670.1 790.1 L670.5 791.6 L670.8 793.1 L671.1 794.6 L671.4 796 L671.7 797.5 L672 799 L672.3 800.5 L672.6 802 L673.2 803.4 L673.8 804.8 L674.4 806.3 L674.9 807.7 L675.4 809.2 L675.9 810.6 L676.4 812.1 L676.8 813.5 L676.8 813.5 L677.2 815 L677.6 816.5 L677.9 818 L678.2 819.5 L678.5 821 L678.8 822.5 L679.1 824 L679.4 825.5 L679.7 827 L680 828.5 L680.2 830 L680.5 831.6 L680.6 832 L680.8 833.1 L681.1 834.6 L681.3 836.1 L681.6 837.6 L681.8 839.1 L682 840.6 L682.3 842.2 L682.5 843.7 L682.8 845.2 L683 846.7 L683.3 848.2 L683.5 849.7 L683.6 850 L683.8 851.2 L684.1 852.7 L684.4 854.3 L684.7 855.8 L685 857.3 L685.3 858.8 L685.6 860.3 L686 861.8 L686.4 863.3 L686.8 864.7 L687 865.5 L687.2 866.2 L687.7 867.7 L688.3 869.2 L688.9 870.7 L689.5 872.2 L690.2 873.7 L691 875 L691.8 876.2 L692.7 877.2 L692.8 877.3 L693.7 878.1 L694.9 878.8 L696.3 879.5 L697.8 880.1 L699.3 880.7 L700.8 881.4 L702.3 882 L702.5 882.1 L703.7 882.7 L705 883.4 L706.4 884 L707.8 884.7 L709.2 885.4 L710.6 886.1 L711.9 886.8 L713.3 887.5 L713.8 887.8 L714.6 888.2 L715.9 889 L717.2 889.8 L718.5 890.6 L719.8 891.5 L721.1 892.3 L722.4 893.1 L723.7 894 L725 894.8 L725.1 894.9 L726.3 895.6 L727.6 896.4 L728.9 897.3 L730.2 898.1 L731.4 898.9 L732.7 899.7 L734 900.6 L735.3 901.4 L736.6 902.2 L737.9 903 L739.2 903.8 L740.5 904.7 L741.8 905.5 L741.8 635 L742.4 636.4 L743.1 637.8 L743.8 639.1 L744.4 640.5 L745.1 641.8 L745.9 643.2 L745.9 643.3 L746.6 644.5 L747.4 645.8 L748.2 647.1 L749 648.4 L749.8 649.7 L750.6 651 L751.4 652.3 L752.2 653.6 L753 654.9 L753.6 655.8 L753.8 656.2 L754.5 657.5 L755.3 658.8 L756 660.2 L756.8 661.5 L757.5 662.8 L758.2 664.2 L758.9 665.5 L759.6 666.9 L760.3 668.2 L761 669.6 L761.1 669.8 L761.6 671 L762.3 672.3 L762.9 673.7 L763.6 675.1 L764.2 676.5 L764.9 677.9 L765.5 679.2 L766.1 680.6 L766.7 682 L767.3 683.4 L767.9 684.8 L768.5 686.3 L768.7 686.9 L769 687.7 L769.6 689.1 L770.1 690.5 L770.6 691.9 L771.2 693.4 L771.7 694.8 L772.2 696.2 L772.7 697.7 L773.2 699.1 L773.7 700.5 L774.2 702 L774.6 703.4 L775.1 704.9 L775.6 706.3 L776.1 707.8 L776.3 708.6 L776.5 709.2 L777 710.7 L777.4 712.1 L777.9 713.6 L778.3 715.1 L778.7 716.5 L779.2 718 L779.6 719.4 L780 720.9 L780.4 722.4 L780.8 723.8 L781.3 725.3 L781.7 726.8 L782.1 728.2 L782.5 729.7 L782.9 731.2 L783.3 732.6 L783.7 734.1 L784 735 L784.1 735.6 L784.5 737 L784.9 738.5 L785.3 740 L785.8 741.4 L786.2 742.9 L786.6 744.4 L787 745.8 L787.4 747.3 L787.8 748.8 L788.1 750.2 L788.5 751.7 L788.9 753.2 L789.3 754.6 L789.7 756.1 L790.1 757.6 L790.5 759.1 L790.9 760.5 L791.3 762 L791.5 763 L791.6 763.5 L792 765 L792.4 766.4 L792.8 767.9 L793.2 769.4 L793.5 770.9 L793.9 772.3 L794.3 773.8 L794.7 775.3 L795 776.8 L795.4 778.2 L795.8 779.7 L796.1 781.2 L796.5 782.7 L796.8 784.2 L797.2 785.6 L797.5 787.1 L797.7 787.9 L797.9 788.6 L798.2 790.1 L798.5 791.6 L798.8 793.1 L799.2 794.5 L799.5 796 L799.8 797.5 L800.1 799 L800.4 800.5 L800.7 802 L801.3 803.4 L801.9 804.8 L802.5 806.2 L803 807.7 L803.5 809.1 L804 810.5 L804.5 812 L804.9 813.4 L804.9 813.5 L805.3 814.9 L805.6 816.4 L806 817.8 L806.3 819.3 L806.6 820.8 L806.9 822.3 L807.2 823.8 L807.5 825.3 L807.8 826.8 L808 828.3 L808.3 829.8 L808.6 831.3 L808.7 832 L808.8 832.8 L809.1 834.3 L809.4 835.8 L809.6 837.3 L809.8 838.8 L810.1 840.3 L810.3 841.8 L810.6 843.3 L810.8 844.8 L811 846.3 L811.3 847.8 L811.6 849.3 L811.7 850 L811.9 850.8 L812.1 852.3 L812.4 853.8 L812.7 855.3 L813 856.8 L813.3 858.3 L813.6 859.8 L814 861.3 L814.3 862.8 L814.7 864.2 L815.1 865.5 L815.2 865.7 L815.6 867.1 L816.2 868.6 L816.7 870.1 L817.4 871.6 L818 873.1 L818.8 874.4 L819.6 875.7 L820.4 876.8 L820.9 877.3 L821.4 877.7 L822.5 878.6 L823.8 879.3 L825.2 880 L826.7 880.6 L828.1 881.3 L829.6 882 L830.2 882.3 L830.9 882.7 L832.3 883.4 L833.6 884.1 L835 884.8 L836.3 885.5 L837.6 886.2 L839 887 L840.3 887.7 L841.1 888.2 L841.6 888.5 L842.9 889.3 L844.1 890.2 L845.4 891 L846.7 891.9 L847.9 892.7 L849.2 893.6 L850.4 894.5 L851.7 895.4 L852 895.6 L852.9 896.2 L854.2 897.1 L855.4 897.9 L856.7 898.8 L858 899.6 L859.2 900.5 L860.5 901.3 L861.7 902.2 L863 903.1 L864.2 903.9 L865.5 904.8 L866.7 905.6 L868 906.5 L868 635 L868.7 636.4 L869.3 637.7 L870 639.1 L870.7 640.4 L871.4 641.8 L872.1 643.1 L872.2 643.3 L872.9 644.4 L873.7 645.7 L874.5 647 L875.3 648.3 L876.1 649.5 L877 650.8 L877.8 652.1 L878.6 653.3 L879.4 654.6 L880.1 655.8 L880.2 655.9 L881 657.2 L881.7 658.5 L882.5 659.8 L883.2 661.2 L883.9 662.5 L884.7 663.8 L885.4 665.2 L886.1 666.5 L886.8 667.8 L887.5 669.2 L887.8 669.8 L888.2 670.5 L888.9 671.9 L889.5 673.2 L890.2 674.6 L890.8 676 L891.5 677.3 L892.1 678.7 L892.8 680.1 L893.4 681.5 L894 682.9 L894.6 684.3 L895.2 685.7 L895.7 686.9 L895.8 687.1 L896.3 688.5 L896.9 689.9 L897.4 691.3 L898 692.7 L898.5 694.1 L899 695.5 L899.5 697 L900 698.4 L900.5 699.8 L901 701.2 L901.5 702.7 L902 704.1 L902.5 705.5 L903 707 L903.5 708.4 L903.5 708.6 L903.9 709.9 L904.4 711.3 L904.8 712.7 L905.3 714.2 L905.7 715.6 L906.2 717.1 L906.6 718.5 L907 720 L907.5 721.4 L907.9 722.9 L908.3 724.4 L908.7 725.8 L909.2 727.3 L909.6 728.7 L910 730.2 L910.4 731.6 L910.8 733.1 L911.3 734.5 L911.4 735 L911.7 736 L912.1 737.5 L912.5 738.9 L912.9 740.4 L913.3 741.8 L913.7 743.3 L914.2 744.7 L914.6 746.2 L915 747.7 L915.4 749.1 L915.8 750.6 L916.2 752 L916.6 753.5 L917 755 L917.4 756.4 L917.8 757.9 L918.2 759.3 L918.6 760.8 L919 762.3 L919.1 763 L919.3 763.7 L919.7 765.2 L920.1 766.7 L920.5 768.1 L920.9 769.6 L921.3 771.1 L921.7 772.5 L922 774 L922.4 775.5 L922.8 776.9 L923.2 778.4 L923.5 779.9 L923.9 781.3 L924.3 782.8 L924.6 784.3 L925 785.7 L925.3 787.2 L925.5 787.9 L925.7 788.7 L926 790.2 L926.4 791.6 L926.7 793.1 L927 794.6 L927.3 796.1 L927.7 797.6 L928 799 L928.3 800.5 L928.6 802 L929.2 803.4 L929.8 804.8 L930.4 806.3 L930.9 807.7 L931.4 809.1 L931.9 810.6 L932.4 812 L932.8 813.5 L932.8 813.5 L933.2 815 L933.5 816.5 L933.9 817.9 L934.2 819.4 L934.5 820.9 L934.8 822.4 L935.1 824 L935.4 825.5 L935.7 827 L936 828.5 L936.2 830 L936.5 831.5 L936.6 832 L936.8 833 L937 834.5 L937.3 836 L937.5 837.5 L937.8 839.1 L938 840.6 L938.3 842.1 L938.5 843.6 L938.7 845.1 L939 846.6 L939.3 848.1 L939.5 849.6 L939.6 850 L939.8 851.1 L940.1 852.6 L940.4 854.2 L940.7 855.7 L941 857.2 L941.3 858.7 L941.6 860.2 L941.9 861.7 L942.3 863.2 L942.7 864.6 L943 865.5 L943.2 866.1 L943.7 867.5 L944.2 869 L944.8 870.5 L945.5 872 L946.2 873.4 L946.9 874.8 L947.8 876 L948.6 877.1 L948.8 877.3 L949.6 878 L950.8 878.9 L952.1 879.6 L953.5 880.4 L955 881.1 L956.4 881.8 L957.8 882.5 L957.8 882.5 L959.1 883.3 L960.5 884 L961.8 884.8 L963.1 885.6 L964.5 886.3 L965.8 887.1 L967.1 887.9 L968.4 888.7 L968.4 888.7 L969.7 889.6 L970.9 890.4 L972.2 891.3 L973.4 892.2 L974.6 893.1 L975.9 894 L977.1 895 L978.3 895.9 L978.9 896.3 L979.6 896.8 L980.8 897.7 L982 898.6 L983.3 899.5 L984.5 900.4 L985.7 901.3 L987 902.2 L988.2 903.1 L989.5 904 L990.7 904.9 L991.9 905.8 L993.2 906.7 L994.4 907.6 L994.4 635 L995.1 636.4 L995.7 637.7 L996.4 639.1 L997.1 640.4 L997.8 641.8 L998.6 643.1 L998.7 643.3 L999.3 644.4 L1000.1 645.7 L1001 647 L1001.8 648.2 L1002.6 649.5 L1003.5 650.8 L1004.3 652 L1005.1 653.3 L1006 654.6 L1006.7 655.8 L1006.7 655.9 L1007.5 657.2 L1008.3 658.5 L1009.1 659.8 L1009.8 661.1 L1010.6 662.4 L1011.3 663.8 L1012 665.1 L1012.7 666.4 L1013.5 667.8 L1014.2 669.1 L1014.5 669.8 L1014.8 670.5 L1015.5 671.8 L1016.2 673.2 L1016.9 674.5 L1017.5 675.9 L1018.2 677.3 L1018.9 678.6 L1019.5 680 L1020.1 681.4 L1020.7 682.8 L1021.4 684.2 L1022 685.6 L1022.5 686.9 L1022.5 687 L1023.1 688.4 L1023.7 689.8 L1024.2 691.2 L1024.8 692.6 L1025.3 694 L1025.8 695.4 L1026.4 696.9 L1026.9 698.3 L1027.4 699.7 L1027.9 701.2 L1028.4 702.6 L1028.9 704 L1029.4 705.5 L1029.9 706.9 L1030.4 708.3 L1030.4 708.6 L1030.8 709.8 L1031.3 711.2 L1031.8 712.7 L1032.2 714.1 L1032.7 715.6 L1033.1 717 L1033.6 718.5 L1034 719.9 L1034.4 721.4 L1034.9 722.8 L1035.3 724.3 L1035.7 725.7 L1036.2 727.2 L1036.6 728.7 L1037 730.1 L1037.4 731.6 L1037.9 733 L1038.3 734.5 L1038.4 735 L1038.7 735.9 L1039.1 737.4 L1039.6 738.9 L1040 740.3 L1040.4 741.8 L1040.8 743.2 L1041.2 744.7 L1041.6 746.1 L1042.1 747.6 L1042.5 749.1 L1042.9 750.5 L1043.3 752 L1043.7 753.4 L1044.1 754.9 L1044.5 756.4 L1044.9 757.8 L1045.3 759.3 L1045.7 760.8 L1046.1 762.2 L1046.3 763 L1046.5 763.7 L1046.9 765.2 L1047.3 766.6 L1047.7 768.1 L1048.1 769.6 L1048.5 771 L1048.9 772.5 L1049.2 774 L1049.6 775.4 L1050 776.9 L1050.4 778.4 L1050.8 779.8 L1051.1 781.3 L1051.5 782.8 L1051.9 784.2 L1052.2 785.7 L1052.6 787.2 L1052.8 787.9 L1052.9 788.7 L1053.3 790.1 L1053.6 791.6 L1054 793.1 L1054.3 794.6 L1054.6 796.1 L1055 797.5 L1055.3 799 L1055.6 800.5 L1055.9 802 L1056.5 803.4 L1057.1 804.8 L1057.7 806.2 L1058.2 807.7 L1058.7 809.1 L1059.2 810.6 L1059.7 812 L1060.1 813.5 L1060.1 813.5 L1060.5 814.9 L1060.8 816.4 L1061.2 817.9 L1061.5 819.4 L1061.8 820.9 L1062.1 822.4 L1062.4 823.9 L1062.7 825.4 L1063 826.9 L1063.2 828.4 L1063.5 829.9 L1063.8 831.4 L1063.9 832 L1064.1 832.9 L1064.3 834.4 L1064.6 835.9 L1064.8 837.4 L1065.1 838.9 L1065.3 840.4 L1065.5 841.9 L1065.8 843.4 L1066 844.9 L1066.3 846.4 L1066.5 847.9 L1066.8 849.4 L1066.9 850 L1067.1 850.9 L1067.4 852.4 L1067.6 853.9 L1067.9 855.4 L1068.2 857 L1068.5 858.5 L1068.8 860 L1069.2 861.4 L1069.6 862.9 L1070 864.4 L1070.3 865.5 L1070.4 865.8 L1070.9 867.3 L1071.4 868.7 L1072 870.2 L1072.6 871.7 L1073.3 873.1 L1074.1 874.5 L1074.9 875.7 L1075.7 876.9 L1076.1 877.3 L1076.7 877.9 L1077.8 878.7 L1079.1 879.5 L1080.4 880.3 L1081.9 881 L1083.3 881.7 L1084.7 882.5 L1084.9 882.6 L1086 883.3 L1087.3 884.1 L1088.6 884.9 L1089.9 885.6 L1091.2 886.4 L1092.5 887.2 L1093.8 888 L1095.1 888.9 L1095.2 889 L1096.3 889.7 L1097.6 890.6 L1098.8 891.5 L1100 892.5 L1101.2 893.4 L1102.4 894.3 L1103.6 895.3 L1104.8 896.2 L1105.5 896.7 L1106 897.1 L1107.3 898 L1108.5 899 L1109.7 899.9 L1110.9 900.8 L1112.1 901.7 L1113.3 902.7 L1114.5 903.6 L1115.8 904.5 L1117 905.4 L1118.2 906.3 L1119.4 907.3 L1120.6 908.2 L1120.6 635 L1121.3 636.4 L1121.9 637.7 L1122.6 639.1 L1123.3 640.4 L1124.1 641.8 L1124.8 643.1 L1124.9 643.3 L1125.6 644.4 L1126.4 645.7 L1127.2 647 L1128 648.2 L1128.8 649.5 L1129.7 650.8 L1130.5 652 L1131.4 653.3 L1132.2 654.6 L1132.9 655.8 L1133 655.9 L1133.8 657.2 L1134.5 658.5 L1135.3 659.8 L1136 661.1 L1136.8 662.4 L1137.5 663.8 L1138.3 665.1 L1139 666.4 L1139.7 667.8 L1140.4 669.1 L1140.8 669.8 L1141.1 670.5 L1141.8 671.8 L1142.5 673.2 L1143.1 674.5 L1143.8 675.9 L1144.5 677.3 L1145.1 678.6 L1145.8 680 L1146.4 681.4 L1147 682.8 L1147.6 684.2 L1148.2 685.6 L1148.8 686.9 L1148.8 687 L1149.4 688.4 L1150 689.8 L1150.5 691.2 L1151.1 692.6 L1151.6 694 L1152.1 695.4 L1152.7 696.9 L1153.2 698.3 L1153.7 699.7 L1154.2 701.1 L1154.7 702.6 L1155.2 704 L1155.7 705.5 L1156.2 706.9 L1156.7 708.3 L1156.8 708.6 L1157.1 709.8 L1157.6 711.2 L1158.1 712.7 L1158.5 714.1 L1159 715.5 L1159.4 717 L1159.9 718.4 L1160.3 719.9 L1160.8 721.4 L1161.2 722.8 L1161.6 724.3 L1162.1 725.7 L1162.5 727.2 L1162.9 728.6 L1163.3 730.1 L1163.8 731.6 L1164.2 733 L1164.6 734.5 L1164.8 735 L1165 735.9 L1165.5 737.4 L1165.9 738.8 L1166.3 740.3 L1166.7 741.8 L1167.2 743.2 L1167.6 744.7 L1168 746.1 L1168.4 747.6 L1168.8 749.1 L1169.2 750.5 L1169.6 752 L1170 753.4 L1170.5 754.9 L1170.9 756.4 L1171.3 757.8 L1171.7 759.3 L1172.1 760.8 L1172.5 762.2 L1172.7 763 L1172.9 763.7 L1173.3 765.2 L1173.7 766.6 L1174 768.1 L1174.4 769.5 L1174.8 771 L1175.2 772.5 L1175.6 773.9 L1176 775.4 L1176.4 776.9 L1176.8 778.4 L1177.2 779.8 L1177.5 781.3 L1177.9 782.8 L1178.3 784.2 L1178.6 785.7 L1179 787.2 L1179.2 787.9 L1179.3 788.7 L1179.7 790.1 L1180 791.6 L1180.4 793.1 L1180.7 794.6 L1181 796.1 L1181.3 797.5 L1181.7 799 L1182 800.5 L1182.3 802 L1182.9 803.4 L1183.5 804.8 L1184.1 806.2 L1184.6 807.7 L1185.1 809.1 L1185.6 810.6 L1186.1 812 L1186.5 813.5 L1186.5 813.5 L1186.9 814.9 L1187.2 816.4 L1187.6 817.9 L1187.9 819.4 L1188.2 820.9 L1188.5 822.4 L1188.8 823.9 L1189.1 825.4 L1189.4 826.9 L1189.6 828.4 L1189.9 829.9 L1190.2 831.4 L1190.3 832 L1190.5 832.9 L1190.7 834.4 L1191 835.9 L1191.2 837.4 L1191.5 838.9 L1191.7 840.4 L1191.9 841.9 L1192.2 843.4 L1192.4 844.9 L1192.7 846.4 L1192.9 847.9 L1193.2 849.4 L1193.3 850 L1193.5 850.9 L1193.8 852.4 L1194 853.9 L1194.3 855.4 L1194.6 856.9 L1194.9 858.4 L1195.2 859.9 L1195.6 861.4 L1196 862.9 L1196.4 864.4 L1196.7 865.5 L1196.8 865.8 L1197.3 867.2 L1197.8 868.7 L1198.4 870.2 L1199 871.7 L1199.7 873.1 L1200.5 874.5 L1201.3 875.7 L1202.1 876.9 L1202.5 877.3 L1203.1 877.9 L1204.2 878.7 L1205.4 879.6 L1206.8 880.3 L1208.2 881.1 L1209.7 881.8 L1211 882.6 L1211.2 882.7 L1212.3 883.4 L1213.6 884.2 L1214.9 885 L1216.2 885.8 L1217.5 886.6 L1218.8 887.4 L1220.1 888.2 L1221.4 889.1 L1221.5 889.1 L1222.6 889.9 L1223.8 890.8 L1225 891.7 L1226.2 892.7 L1227.4 893.6 L1228.6 894.6 L1229.8 895.5 L1231 896.5 L1231.7 897 L1232.2 897.4 L1233.4 898.3 L1234.7 899.3 L1235.9 900.2 L1237.1 901.1 L1238.3 902.1 L1239.5 903 L1240.7 903.9 L1241.9 904.9 L1243.1 905.8 L1244.3 906.7 L1245.5 907.7 L1246.7 908.6 L1246.7 635 L1247.4 636.4 L1248 637.7 L1248.7 639.1 L1249.4 640.4 L1250.2 641.8 L1250.9 643.1 L1251 643.3 L1251.7 644.4 L1252.5 645.7 L1253.3 647 L1254.1 648.2 L1255 649.5 L1255.8 650.7 L1256.7 652 L1257.5 653.3 L1258.3 654.6 L1259.1 655.8 L1259.1 655.9 L1259.9 657.2 L1260.7 658.5 L1261.5 659.8 L1262.2 661.1 L1263 662.4 L1263.7 663.7 L1264.5 665.1 L1265.2 666.4 L1265.9 667.7 L1266.6 669.1 L1267 669.8 L1267.3 670.4 L1268 671.8 L1268.7 673.1 L1269.3 674.5 L1270 675.9 L1270.7 677.2 L1271.3 678.6 L1272 680 L1272.6 681.4 L1273.2 682.7 L1273.9 684.1 L1274.5 685.5 L1275 686.9 L1275 686.9 L1275.6 688.3 L1276.2 689.7 L1276.8 691.1 L1277.3 692.6 L1277.8 694 L1278.4 695.4 L1278.9 696.8 L1279.4 698.3 L1280 699.7 L1280.5 701.1 L1281 702.6 L1281.5 704 L1282 705.4 L1282.4 706.9 L1282.9 708.3 L1283 708.6 L1283.4 709.7 L1283.9 711.2 L1284.4 712.6 L1284.8 714.1 L1285.3 715.5 L1285.7 717 L1286.2 718.4 L1286.6 719.9 L1287.1 721.3 L1287.5 722.8 L1287.9 724.2 L1288.4 725.7 L1288.8 727.2 L1289.2 728.6 L1289.6 730.1 L1290.1 731.5 L1290.5 733 L1290.9 734.4 L1291.1 735 L1291.4 735.9 L1291.8 737.4 L1292.2 738.8 L1292.6 740.3 L1293.1 741.7 L1293.5 743.2 L1293.9 744.7 L1294.3 746.1 L1294.7 747.6 L1295.1 749 L1295.6 750.5 L1296 752 L1296.4 753.4 L1296.8 754.9 L1297.2 756.3 L1297.6 757.8 L1298 759.3 L1298.4 760.7 L1298.8 762.2 L1299 763 L1299.2 763.7 L1299.6 765.1 L1300 766.6 L1300.4 768.1 L1300.8 769.5 L1301.2 771 L1301.6 772.5 L1302 773.9 L1302.4 775.4 L1302.8 776.9 L1303.1 778.3 L1303.5 779.8 L1303.9 781.3 L1304.3 782.8 L1304.6 784.2 L1305 785.7 L1305.4 787.2 L1305.5 787.9 L1305.7 788.7 L1306.1 790.1 L1306.4 791.6 L1306.8 793.1 L1307.1 794.6 L1307.4 796.1 L1307.7 797.5 L1308.1 799 L1308.4 800.5 L1308.7 802 L1309.3 803.4 L1309.9 804.8 L1310.5 806.3 L1311 807.7 L1311.5 809.1 L1312 810.6 L1312.5 812 L1312.9 813.5 L1312.9 813.5 L1313.3 814.9 L1313.6 816.4 L1314 817.9 L1314.3 819.4 L1314.6 820.9 L1314.9 822.4 L1315.2 823.9 L1315.5 825.4 L1315.8 826.9 L1316 828.4 L1316.3 829.9 L1316.6 831.4 L1316.7 832 L1316.9 832.9 L1317.1 834.4 L1317.4 835.9 L1317.6 837.4 L1317.9 838.9 L1318.1 840.4 L1318.3 841.9 L1318.6 843.5 L1318.8 845 L1319.1 846.5 L1319.3 848 L1319.6 849.5 L1319.7 850 L1319.9 851 L1320.2 852.5 L1320.4 854 L1320.7 855.5 L1321 857 L1321.3 858.5 L1321.7 860 L1322 861.5 L1322.4 863 L1322.8 864.4 L1323.1 865.5 L1323.2 865.9 L1323.7 867.3 L1324.2 868.8 L1324.8 870.3 L1325.5 871.8 L1326.2 873.2 L1326.9 874.5 L1327.7 875.8 L1328.6 876.9 L1328.9 877.3 L1329.5 877.9 L1330.6 878.8 L1331.9 879.6 L1333.3 880.4 L1334.7 881.2 L1336.1 881.9 L1337.5 882.7 L1337.6 882.8 L1338.8 883.5 L1340.1 884.3 L1341.4 885.1 L1342.7 885.9 L1343.9 886.7 L1345.2 887.6 L1346.5 888.4 L1347.8 889.3 L1347.8 889.3 L1349 890.1 L1350.2 891.1 L1351.4 892 L1352.6 892.9 L1353.8 893.9 L1355 894.8 L1356.2 895.8 L1357.4 896.7 L1358 897.2 L1358.6 897.7 L1359.8 898.6 L1361 899.6 L1362.2 900.5 L1363.4 901.5 L1364.6 902.4 L1365.8 903.3 L1367 904.3 L1368.2 905.2 L1369.4 906.2 L1370.6 907.1 L1371.8 908.1 L1373 909 L1373 635 L1373.6 636.4 L1374.3 637.7 L1375 639.1 L1375.7 640.4 L1376.4 641.8 L1377.1 643.1 L1377.2 643.3 L1377.9 644.4 L1378.7 645.7 L1379.5 647 L1380.3 648.3 L1381.1 649.5 L1381.9 650.8 L1382.8 652.1 L1383.6 653.3 L1384.4 654.6 L1385.1 655.8 L1385.2 655.9 L1385.9 657.2 L1386.7 658.5 L1387.4 659.9 L1388.2 661.2 L1388.9 662.5 L1389.7 663.8 L1390.4 665.2 L1391.1 666.5 L1391.8 667.8 L1392.5 669.2 L1392.8 669.8 L1393.2 670.5 L1393.8 671.9 L1394.5 673.3 L1395.2 674.6 L1395.8 676 L1396.5 677.4 L1397.1 678.7 L1397.7 680.1 L1398.3 681.5 L1399 682.9 L1399.6 684.3 L1400.1 685.7 L1400.6 686.9 L1400.7 687.1 L1401.3 688.5 L1401.8 689.9 L1402.4 691.3 L1402.9 692.7 L1403.4 694.1 L1404 695.5 L1404.5 697 L1405 698.4 L1405.5 699.8 L1405.6 700.1" fill="none" stroke="#d95527" stroke-width="6.9" stroke-linejoin="round"/>
<text x="1.5" y="553.3" text-anchor="start" fill="#000" text-rendering="geometricPrecision"><tspan font-family='"Liberation Sans", sans-serif' font-style="normal" font-size="62.5">(b)</tspan></text>
<text x="106.9" y="544.7" text-anchor="start" fill="#000" text-rendering="geometricPrecision"><tspan font-family='"Liberation Serif", serif' font-style="italic" font-size="46.5">π</tspan><tspan font-family='"Liberation Serif", serif' font-style="normal" font-size="49.5">/3</tspan></text>
<text x="108.2" y="637.8" text-anchor="start" fill="#000" text-rendering="geometricPrecision"><tspan font-family='"Liberation Serif", serif' font-style="italic" font-size="46.5">π</tspan><tspan font-family='"Liberation Serif", serif' font-style="normal" font-size="49.5">/6</tspan></text>
<text x="146" y="741.3" text-anchor="start" fill="#000" text-rendering="geometricPrecision"><tspan font-family='"Liberation Serif", serif' font-style="normal" font-size="49.5">0</tspan></text>
<text x="91.7" y="836.8" text-anchor="start" fill="#000" text-rendering="geometricPrecision"><tspan font-family='"Liberation Serif", serif' font-style="normal" font-size="49.5">-</tspan><tspan font-family='"Liberation Serif", serif' font-style="italic" font-size="46.5">π</tspan><tspan font-family='"Liberation Serif", serif' font-style="normal" font-size="49.5">/6</tspan></text>
<text x="90.4" y="937.3" text-anchor="start" fill="#000" text-rendering="geometricPrecision"><tspan font-family='"Liberation Serif", serif' font-style="normal" font-size="49.5">-</tspan><tspan font-family='"Liberation Serif", serif' font-style="italic" font-size="46.5">π</tspan><tspan font-family='"Liberation Serif", serif' font-style="normal" font-size="49.5">/3</tspan></text>
<text x="43.9" y="742.2" font-family='"Liberation Serif", serif' font-style="italic" font-size="64" textLength="35" lengthAdjust="spacingAndGlyphs" fill="#000">θ</text>
<line x1="593.8" y1="1011.2" x2="593.8" y2="1017.7" stroke="#4d4d4f" stroke-width="3.3"/>
<line x1="593.8" y1="1409.9" x2="593.8" y2="1403.4" stroke="#4d4d4f" stroke-width="3.3"/>
<line x1="999.3" y1="1011.2" x2="999.3" y2="1017.7" stroke="#4d4d4f" stroke-width="3.3"/>
<line x1="999.3" y1="1409.9" x2="999.3" y2="1403.4" stroke="#4d4d4f" stroke-width="3.3"/>
<line x1="188.7" y1="1077.4" x2="202.2" y2="1077.4" stroke="#4d4d4f" stroke-width="3.3"/>
<line x1="1405.2" y1="1077.4" x2="1391.2" y2="1077.4" stroke="#4d4d4f" stroke-width="3.3"/>
<line x1="188.7" y1="1143.8" x2="202.2" y2="1143.8" stroke="#4d4d4f" stroke-width="3.3"/>
<line x1="1405.2" y1="1143.8" x2="1391.2" y2="1143.8" stroke="#4d4d4f" stroke-width="3.3"/>
<line x1="188.7" y1="1210.3" x2="202.2" y2="1210.3" stroke="#4d4d4f" stroke-width="3.3"/>
<line x1="1405.2" y1="1210.3" x2="1391.2" y2="1210.3" stroke="#4d4d4f" stroke-width="3.3"/>
<line x1="188.7" y1="1276.8" x2="202.2" y2="1276.8" stroke="#4d4d4f" stroke-width="3.3"/>
<line x1="1405.2" y1="1276.8" x2="1391.2" y2="1276.8" stroke="#4d4d4f" stroke-width="3.3"/>
<line x1="188.7" y1="1343.2" x2="202.2" y2="1343.2" stroke="#4d4d4f" stroke-width="3.3"/>
<line x1="1405.2" y1="1343.2" x2="1391.2" y2="1343.2" stroke="#4d4d4f" stroke-width="3.3"/>
<rect x="188.7" y="1011.2" width="1216.5" height="398.7" fill="none" stroke="#4d4d4f" stroke-width="3.3"/>
<path d="M188.4 1186.5 L189.5 1187.6 L189.7 1187.8 L190.5 1188.7 L191.4 1189.9 L192.4 1191.2 L193.3 1192.4 L194.2 1193.6 L195.2 1194.7 L195.9 1195.3 L196.3 1195.7 L197.5 1196.8 L198.8 1197.8 L200.2 1198.4 L200.5 1198.4 L201.6 1198.3 L203.1 1198 L204.6 1197.6 L206 1197.2 L206.1 1197.2 L207.5 1196.6 L208.8 1196 L210.2 1195.2 L211.4 1194.5 L211.5 1194.4 L212.8 1193.7 L214.1 1192.9 L215.4 1192.1 L216.7 1191.3 L218 1190.4 L219.3 1189.5 L220.5 1188.6 L221.7 1187.7 L222.9 1186.8 L223.9 1185.9 L224 1185.8 L225.1 1184.8 L226.2 1183.8 L227.3 1182.7 L228.3 1181.5 L229.3 1180.4 L230.3 1179.2 L231.3 1178.1 L232.3 1176.9 L233.2 1175.6 L234.1 1174.4 L234.8 1173.5 L235 1173.2 L235.9 1172 L236.7 1170.7 L237.6 1169.4 L238.4 1168.2 L239.2 1166.9 L240 1165.5 L240.7 1164.2 L241.5 1162.9 L242.2 1161.6 L242.9 1160.2 L243.6 1158.9 L244.1 1158 L244.3 1157.5 L245 1156.2 L245.7 1154.8 L246.4 1153.4 L247 1152.1 L247.7 1150.7 L248.3 1149.3 L248.9 1147.9 L249.6 1146.5 L250.2 1145.1 L250.7 1143.7 L251.3 1142.3 L251.9 1140.9 L251.9 1140.9 L252.5 1139.5 L253 1138.1 L253.5 1136.7 L254.1 1135.2 L254.6 1133.8 L255.1 1132.4 L255.6 1130.9 L256.1 1129.5 L256.6 1128.1 L257.1 1126.6 L257.6 1125.2 L258.1 1123.7 L258.5 1122.3 L259 1120.8 L259.5 1119.4 L259.6 1119.1 L260 1118 L260.4 1116.5 L260.9 1115.1 L261.4 1113.6 L261.8 1112.2 L262.3 1110.7 L262.7 1109.3 L263.2 1107.8 L263.6 1106.3 L264 1104.9 L264.5 1103.4 L264.9 1102 L265.3 1100.5 L265.8 1099 L265.8 1098.9 L266.2 1097.6 L266.6 1096.1 L267 1094.6 L267.3 1093.2 L267.7 1091.7 L268.1 1090.2 L268.5 1088.7 L268.9 1087.3 L269.4 1085.8 L269.8 1084.4 L270.2 1083.3 L270.3 1083 L270.9 1081.6 L271.5 1080.2 L272.1 1078.8 L272.8 1077.4 L275.6 1312.8 L279.1 1322.2 L283.7 1343.2 L286.8 1210.3 L334.3 1210.3 L336.4 1235 L338.4 1204.5 L339 1203.1 L339.7 1201.7 L340.3 1200.3 L340.5 1199.9 L340.9 1199 L341.6 1197.6 L342.4 1196.3 L343.1 1194.9 L343.8 1193.6 L344.5 1192.2 L345.2 1190.9 L345.9 1189.5 L346.5 1188.1 L346.7 1187.5 L347 1186.7 L347.5 1185.3 L348 1183.8 L348.4 1182.4 L348.9 1180.9 L349.3 1179.5 L349.7 1178 L350.1 1176.5 L350.5 1175 L350.9 1173.6 L351.3 1172.1 L351.4 1171.9 L351.8 1170.6 L352.2 1169.1 L352.5 1167.6 L352.9 1166.1 L353.3 1164.6 L353.6 1163.1 L354.1 1161.6 L354.5 1160.2 L355 1158.8 L355.5 1157.4 L356 1156.4 L356.2 1156.1 L357 1154.6 L358 1153.1 L359.1 1151.8 L360.2 1151 L360.7 1150.9 L361.1 1151 L362.1 1151.5 L363 1152.4 L364 1153.6 L364.9 1155.1 L365.8 1156.7 L366.7 1158.3 L367.6 1159.8 L368.5 1161.1 L368.5 1161.1 L369.4 1162.5 L370.3 1164.2 L371.1 1165.8 L372 1167.2 L372.8 1168.3 L373.8 1168.8 L373.9 1168.8 L374.7 1168.6 L375.8 1167.9 L376.9 1166.8 L378 1165.4 L379.1 1163.9 L380 1162.4 L380.9 1161.1 L380.9 1161.1 L381.7 1159.8 L382.4 1158.5 L383.1 1157.2 L383.8 1155.9 L384.4 1154.5 L385.1 1153.1 L385.7 1151.6 L386.2 1150.2 L386.8 1148.8 L387.4 1147.3 L387.9 1145.9 L388.5 1144.5 L388.7 1144 L389.1 1143.1 L389.6 1141.7 L390.2 1140.2 L390.7 1138.8 L391.2 1137.4 L391.8 1136 L392.3 1134.5 L392.8 1133.1 L393.3 1131.7 L393.8 1130.2 L394.3 1128.8 L394.8 1127.3 L395.2 1125.9 L395.7 1124.4 L396.2 1123 L396.4 1122.2 L396.6 1121.5 L397 1120.1 L397.5 1118.6 L397.9 1117.2 L398.3 1115.7 L398.7 1114.2 L399.1 1112.8 L399.5 1111.3 L399.9 1109.8 L400.3 1108.4 L400.7 1106.9 L401 1105.4 L401.4 1103.9 L401.8 1102.5 L402.2 1101 L402.5 1099.5 L402.7 1098.9 L402.9 1098 L403.3 1096.6 L403.7 1095.1 L404 1093.6 L404.4 1092.1 L404.7 1090.6 L405.1 1089.2 L405.4 1087.7 L405.8 1086.2 L406 1085.5 L406.2 1084.7 L406.6 1083.3 L407 1081.8 L407.4 1080.3 L407.8 1078.9 L408.2 1077.4 L412.1 1312.8 L415.3 1321.5 L419.1 1343.2 L422.2 1210.3 L463.4 1210.3 L466.6 1227.3 L469.3 1206.5 L470.2 1205.2 L471.1 1204 L471.9 1202.7 L472.7 1201.4 L473.5 1200.1 L474.2 1198.7 L474.9 1197.4 L475.5 1196 L475.8 1195.3 L476.1 1194.7 L476.6 1193.3 L477.1 1191.8 L477.5 1190.4 L478 1188.9 L478.4 1187.5 L478.8 1186 L479.2 1184.5 L479.6 1183 L480 1181.6 L480.4 1180.1 L480.5 1179.7 L480.8 1178.6 L481.2 1177.2 L481.6 1175.7 L481.9 1174.2 L482.3 1172.7 L482.7 1171.2 L483.1 1169.8 L483.5 1168.3 L484 1166.9 L484.4 1165.7 L484.5 1165.5 L485.1 1163.9 L485.7 1162.2 L486.4 1160.4 L487.2 1158.7 L487.9 1157.3 L488.7 1156.2 L489.5 1155.7 L489.8 1155.6 L490.3 1155.7 L491 1156.3 L491.8 1157.2 L492.6 1158.5 L493.5 1160.1 L494.3 1161.7 L495.2 1163.4 L496.1 1165 L497 1166.5 L497.6 1167.3 L497.9 1167.7 L498.9 1169.1 L500 1170.5 L501.1 1171.8 L502.2 1172.8 L503.3 1173.4 L503.8 1173.5 L504.4 1173.4 L505.5 1172.9 L506.7 1172 L507.8 1170.8 L508.9 1169.4 L510 1168 L511 1166.6 L511.6 1165.7 L511.8 1165.4 L512.7 1164.1 L513.4 1162.9 L514.2 1161.5 L514.9 1160.2 L515.6 1158.8 L516.2 1157.4 L516.9 1156 L517.5 1154.6 L518.1 1153.2 L518.7 1151.8 L519.3 1150.4 L519.4 1150.2 L519.9 1149 L520.5 1147.6 L521 1146.2 L521.6 1144.8 L522.1 1143.4 L522.7 1141.9 L523.2 1140.5 L523.7 1139.1 L524.2 1137.7 L524.7 1136.2 L525.2 1134.8 L525.6 1133.3 L526.1 1131.9 L526.6 1130.4 L527 1129 L527.2 1128.4 L527.5 1127.5 L527.9 1126.1 L528.3 1124.6 L528.7 1123.2 L529.1 1121.7 L529.5 1120.2 L529.9 1118.8 L530.3 1117.3 L530.7 1115.8 L531.1 1114.4 L531.5 1112.9 L531.8 1111.4 L532.2 1110 L532.6 1108.5 L532.9 1107 L533.3 1105.5 L533.4 1105.1 L533.7 1104.1 L534 1102.6 L534.4 1101.1 L534.7 1099.6 L535 1098.1 L535.4 1096.7 L535.7 1095.2 L536 1093.7 L536.4 1092.2 L536.7 1090.7 L537 1089.3 L537.3 1088 L537.3 1087.8 L537.7 1086.3 L538 1084.8 L538.3 1083.3 L538.6 1081.9 L539 1080.4 L539.3 1078.9 L539.6 1077.4 L543.5 1311.3 L547 1321 L551.3 1343.2 L555.1 1210.3 L591.7 1210.3 L595.4 1221.1 L598.5 1206.5 L599.1 1205.1 L599.7 1203.7 L600.3 1202.3 L600.9 1200.9 L601.5 1199.5 L602.1 1198.1 L602.6 1196.7 L603.2 1195.2 L603.7 1193.8 L604.3 1192.4 L604.8 1191 L605.3 1189.5 L605.8 1188.1 L606.3 1186.7 L606.8 1185.2 L607.3 1183.8 L607.7 1182.3 L607.9 1181.8 L608.2 1180.9 L608.6 1179.4 L608.9 1177.9 L609.3 1176.4 L609.6 1174.8 L609.9 1173.3 L610.3 1171.8 L610.6 1170.3 L611 1168.8 L611.5 1167.4 L612 1166 L612.5 1164.7 L612.6 1164.5 L613.2 1163.3 L614.1 1161.8 L615.2 1160.3 L616.3 1159 L617.4 1158 L618.4 1157.6 L618.5 1157.6 L619.3 1157.8 L620.1 1158.5 L621 1159.7 L621.8 1161.1 L622.6 1162.7 L623.4 1164.4 L624.2 1166.1 L625 1167.6 L625.5 1168.4 L625.9 1169 L626.7 1170.5 L627.6 1172.1 L628.4 1173.7 L629.3 1175 L630.2 1175.9 L631 1176.2 L631.1 1176.2 L632.1 1175.8 L633.1 1174.8 L634.2 1173.5 L635.2 1172 L636.2 1170.5 L637 1169.2 L637.1 1169.1 L637.9 1167.9 L638.7 1166.6 L639.4 1165.2 L640.2 1163.9 L640.9 1162.5 L641.5 1161.2 L642.2 1159.8 L642.9 1158.4 L643.5 1157 L644.1 1155.7 L644.2 1155.6 L644.8 1154.3 L645.4 1152.9 L646 1151.5 L646.6 1150.1 L647.2 1148.7 L647.8 1147.3 L648.3 1145.9 L648.9 1144.4 L649.4 1143 L650 1141.6 L650.5 1140.2 L651.1 1138.7 L651.4 1137.9 L651.6 1137.3 L652.1 1135.9 L652.6 1134.5 L653.1 1133 L653.6 1131.6 L654.1 1130.1 L654.6 1128.7 L655 1127.2 L655.5 1125.8 L656 1124.4 L656.4 1122.9 L656.9 1121.4 L657.4 1120 L657.8 1118.5 L658.2 1117.1 L658.7 1115.6 L658.7 1115.6 L659.1 1114.2 L659.5 1112.7 L659.9 1111.2 L660.4 1109.8 L660.8 1108.3 L661.2 1106.8 L661.6 1105.4 L662 1103.9 L662.3 1102.4 L662.7 1101 L663.1 1099.5 L663.5 1098 L663.9 1096.5 L664.2 1095.1 L664.4 1094.4 L664.6 1093.6 L665 1092.1 L665.3 1090.6 L665.7 1089.2 L666 1087.7 L666.4 1086.2 L666.7 1084.7 L667.1 1083.3 L667.1 1083.2 L667.5 1081.8 L667.9 1080.3 L668.4 1078.9 L668.8 1077.4 L673.4 1307.3 L675.9 1316.6 L678.6 1328.3 L680.9 1338.4 L682 1343.2 L684.4 1210.3 L722.2 1210.3 L723.2 1216.8 L724.6 1207.8 L725.3 1206.4 L725.9 1205 L726.5 1203.7 L727.1 1202.3 L727.8 1200.9 L728.4 1199.5 L729 1198.1 L729.5 1196.7 L730.1 1195.3 L730.7 1193.9 L731.2 1192.5 L731.8 1191.1 L732.3 1189.7 L732.8 1188.2 L733.3 1186.8 L733.8 1185.4 L734.3 1184 L734.8 1182.5 L734.9 1182.2 L735.2 1181.1 L735.7 1179.6 L736 1178.1 L736.4 1176.6 L736.7 1175.1 L737.1 1173.6 L737.4 1172.1 L737.8 1170.6 L738.2 1169.2 L738.7 1167.8 L739.3 1166.4 L739.6 1165.7 L739.9 1165.2 L740.7 1163.7 L741.8 1162.2 L742.9 1160.8 L744 1159.8 L745.1 1159.2 L745.5 1159.1 L746 1159.2 L746.9 1159.8 L747.7 1160.8 L748.5 1162.1 L749.3 1163.7 L750.1 1165.3 L750.9 1167 L751.7 1168.6 L752.5 1169.9 L752.5 1170 L753.4 1171.4 L754.2 1173 L755.1 1174.6 L756 1176.1 L756.9 1177.1 L757.8 1177.7 L758 1177.7 L758.7 1177.5 L759.7 1176.8 L760.8 1175.6 L761.8 1174.2 L762.8 1172.7 L763.8 1171.2 L764.1 1170.6 L764.6 1170 L765.4 1168.7 L766.2 1167.4 L766.9 1166.1 L767.7 1164.8 L768.4 1163.4 L769.1 1162 L769.7 1160.7 L770.4 1159.3 L771 1157.9 L771.5 1156.9 L771.7 1156.6 L772.3 1155.2 L772.9 1153.8 L773.5 1152.4 L774.1 1151 L774.7 1149.6 L775.3 1148.2 L775.9 1146.8 L776.4 1145.4 L777 1144 L777.5 1142.6 L778.1 1141.2 L778.6 1139.8 L779 1138.8 L779.1 1138.4 L779.6 1136.9 L780.2 1135.5 L780.7 1134.1 L781.2 1132.7 L781.7 1131.2 L782.1 1129.8 L782.6 1128.4 L783.1 1126.9 L783.6 1125.5 L784 1124.1 L784.5 1122.6 L785 1121.2 L785.4 1119.7 L785.9 1118.3 L786.3 1116.8 L786.5 1116.2 L786.7 1115.4 L787.2 1113.9 L787.6 1112.5 L788 1111 L788.4 1109.6 L788.8 1108.1 L789.2 1106.7 L789.6 1105.2 L790 1103.7 L790.4 1102.3 L790.8 1100.8 L791.2 1099.3 L791.6 1097.9 L791.9 1096.4 L792.3 1095 L792.4 1094.7 L792.7 1093.5 L793 1092 L793.4 1090.5 L793.7 1089.1 L794.1 1087.6 L794.4 1086.1 L794.8 1084.7 L795.1 1083.4 L795.2 1083.2 L795.6 1081.7 L796 1080.3 L796.5 1078.8 L796.9 1077.4 L801.5 1307.3 L804 1316.6 L806.7 1328.3 L809 1338.4 L810.1 1343.2 L812.5 1210.3 L848.4 1210.3 L849.4 1209.2 L850.4 1208 L851.4 1206.8 L851.8 1206.1 L852.1 1205.5 L852.9 1204.2 L853.5 1202.9 L854.2 1201.6 L854.8 1200.2 L855.4 1198.8 L856 1197.4 L856.6 1195.9 L857.1 1194.5 L857.6 1193.1 L858.1 1191.6 L858.6 1190.1 L859.1 1188.7 L859.6 1187.2 L860.1 1185.7 L860.6 1184.3 L861.1 1182.9 L861.1 1182.8 L861.5 1181.4 L862 1179.9 L862.4 1178.4 L862.7 1176.9 L863.1 1175.3 L863.5 1173.8 L863.9 1172.3 L864.3 1170.9 L864.8 1169.5 L865.4 1168.2 L865.8 1167.3 L866 1166.9 L866.9 1165.5 L868 1164 L869.2 1162.7 L870.3 1161.7 L871.4 1161.1 L871.7 1161.1 L872.3 1161.2 L873.2 1161.9 L874.1 1163 L874.9 1164.3 L875.7 1165.9 L876.4 1167.6 L877.2 1169.3 L878.1 1170.9 L878.7 1171.9 L878.9 1172.2 L879.8 1173.7 L880.6 1175.3 L881.5 1177 L882.4 1178.3 L883.2 1179.3 L884.2 1179.7 L884.2 1179.7 L885.2 1179.4 L886.2 1178.6 L887.3 1177.3 L888.3 1175.9 L889.3 1174.4 L890.3 1173 L890.6 1172.5 L891.2 1171.7 L892 1170.5 L892.8 1169.2 L893.5 1167.9 L894.3 1166.5 L895 1165.2 L895.7 1163.8 L896.4 1162.4 L897.1 1161 L897.7 1159.7 L898.3 1158.5 L898.4 1158.3 L899 1156.9 L899.7 1155.6 L900.3 1154.2 L900.9 1152.8 L901.5 1151.4 L902.1 1150 L902.7 1148.6 L903.3 1147.2 L903.9 1145.7 L904.4 1144.3 L905 1142.9 L905.5 1141.5 L906.1 1140.1 L906.1 1140 L906.6 1138.6 L907.1 1137.2 L907.6 1135.8 L908.2 1134.4 L908.7 1132.9 L909.2 1131.5 L909.7 1130 L910.2 1128.6 L910.7 1127.2 L911.1 1125.7 L911.6 1124.3 L912.1 1122.8 L912.5 1121.4 L913 1119.9 L913.5 1118.5 L913.9 1117 L913.9 1117 L914.4 1115.6 L914.8 1114.1 L915.2 1112.6 L915.7 1111.2 L916.1 1109.7 L916.5 1108.3 L916.9 1106.8 L917.3 1105.3 L917.7 1103.9 L918.1 1102.4 L918.5 1100.9 L918.9 1099.5 L919.3 1098 L919.7 1096.5 L920.1 1095 L920.1 1095 L920.5 1093.6 L920.8 1092.1 L921.2 1090.6 L921.5 1089.1 L921.9 1087.6 L922.3 1086.2 L922.7 1084.7 L923 1083.5 L923 1083.2 L923.5 1081.8 L923.9 1080.3 L924.3 1078.9 L924.8 1077.4 L929.4 1307.3 L931.9 1316.6 L934.6 1328.3 L936.9 1338.4 L938 1343.2 L940.4 1210.3 L974.8 1210.3 L975.8 1209.2 L976.8 1208 L977.7 1206.8 L978.2 1206.1 L978.5 1205.6 L979.2 1204.3 L979.9 1203 L980.6 1201.6 L981.2 1200.3 L981.8 1198.9 L982.4 1197.5 L982.9 1196 L983.5 1194.6 L984 1193.2 L984.5 1191.7 L985 1190.3 L985.5 1188.8 L986 1187.4 L986.5 1185.9 L987 1184.5 L987.5 1183.1 L987.5 1183.1 L988 1181.6 L988.4 1180.1 L988.8 1178.6 L989.2 1177.1 L989.6 1175.6 L990 1174.1 L990.4 1172.6 L990.9 1171.2 L991.4 1169.8 L992 1168.5 L992.2 1168.1 L992.7 1167.3 L993.7 1165.9 L994.8 1164.4 L996 1163.2 L997.1 1162.4 L998.1 1162.1 L998.2 1162.1 L999.1 1162.4 L999.9 1163.2 L1000.8 1164.4 L1001.6 1165.9 L1002.3 1167.5 L1003.1 1169.2 L1003.9 1170.8 L1004.7 1172.3 L1005.1 1172.9 L1005.6 1173.7 L1006.4 1175.2 L1007.3 1176.9 L1008.1 1178.4 L1009 1179.7 L1009.9 1180.5 L1010.6 1180.7 L1010.8 1180.7 L1011.8 1180.2 L1012.9 1179.3 L1014 1178 L1015 1176.6 L1016 1175.1 L1017 1173.7 L1017.2 1173.4 L1017.8 1172.5 L1018.6 1171.2 L1019.4 1169.9 L1020.2 1168.6 L1020.9 1167.3 L1021.7 1166 L1022.4 1164.6 L1023.1 1163.2 L1023.7 1161.9 L1024.4 1160.5 L1025 1159.3 L1025.1 1159.2 L1025.7 1157.8 L1026.4 1156.4 L1027 1155.1 L1027.6 1153.7 L1028.2 1152.3 L1028.8 1150.9 L1029.4 1149.5 L1030 1148.1 L1030.6 1146.7 L1031.1 1145.3 L1031.7 1143.9 L1032.2 1142.5 L1032.8 1141.1 L1033 1140.6 L1033.3 1139.7 L1033.9 1138.2 L1034.4 1136.8 L1034.9 1135.4 L1035.4 1134 L1035.9 1132.6 L1036.4 1131.1 L1036.9 1129.7 L1037.4 1128.3 L1037.9 1126.8 L1038.4 1125.4 L1038.9 1124 L1039.3 1122.5 L1039.8 1121.1 L1040.3 1119.6 L1040.7 1118.2 L1041 1117.4 L1041.2 1116.8 L1041.6 1115.3 L1042.1 1113.9 L1042.5 1112.4 L1042.9 1111 L1043.3 1109.5 L1043.8 1108.1 L1044.2 1106.6 L1044.6 1105.1 L1045 1103.7 L1045.4 1102.2 L1045.8 1100.8 L1046.2 1099.3 L1046.6 1097.8 L1047 1096.4 L1047.3 1095.2 L1047.4 1094.9 L1047.7 1093.5 L1048.1 1092 L1048.5 1090.5 L1048.8 1089 L1049.2 1087.6 L1049.6 1086.1 L1049.9 1084.6 L1050.2 1083.6 L1050.3 1083.2 L1050.8 1081.7 L1051.2 1080.3 L1051.6 1078.8 L1052.1 1077.4 L1056.7 1307.3 L1059.2 1316.6 L1061.9 1328.3 L1064.2 1338.4 L1065.3 1343.2 L1067.7 1210.3 L1101 1210.3 L1102 1209.2 L1103 1208 L1103.9 1206.8 L1104.4 1206.1 L1104.7 1205.6 L1105.4 1204.3 L1106.1 1203 L1106.8 1201.6 L1107.4 1200.3 L1108 1198.9 L1108.6 1197.5 L1109.2 1196 L1109.7 1194.6 L1110.3 1193.2 L1110.8 1191.7 L1111.3 1190.3 L1111.8 1188.8 L1112.3 1187.4 L1112.8 1186 L1113.3 1184.5 L1113.7 1183.5 L1113.9 1183.1 L1114.3 1181.6 L1114.8 1180.1 L1115.2 1178.6 L1115.6 1177.1 L1116 1175.6 L1116.4 1174.1 L1116.9 1172.7 L1117.4 1171.3 L1118 1170 L1118.4 1169.3 L1118.7 1168.8 L1119.7 1167.4 L1120.8 1166 L1122 1164.8 L1123.2 1163.9 L1124.3 1163.6 L1124.3 1163.6 L1125.2 1163.9 L1126.1 1164.6 L1126.9 1165.8 L1127.7 1167.3 L1128.5 1168.9 L1129.3 1170.6 L1130.1 1172.2 L1130.9 1173.7 L1131.3 1174.4 L1131.7 1175 L1132.6 1176.6 L1133.4 1178.2 L1134.3 1179.8 L1135.1 1181.1 L1136 1182 L1136.8 1182.2 L1137 1182.2 L1138 1181.8 L1139 1180.9 L1140.1 1179.6 L1141.1 1178.2 L1142.1 1176.7 L1143.1 1175.3 L1143.4 1174.8 L1143.9 1174 L1144.8 1172.8 L1145.5 1171.5 L1146.3 1170.2 L1147.1 1168.9 L1147.8 1167.5 L1148.5 1166.2 L1149.2 1164.8 L1149.8 1163.4 L1150.5 1162.1 L1151.2 1160.7 L1151.3 1160.5 L1151.8 1159.3 L1152.5 1158 L1153.1 1156.6 L1153.7 1155.2 L1154.3 1153.8 L1154.9 1152.4 L1155.5 1151 L1156.1 1149.6 L1156.7 1148.2 L1157.2 1146.8 L1157.8 1145.4 L1158.3 1144 L1158.9 1142.6 L1159.3 1141.5 L1159.4 1141.2 L1159.9 1139.8 L1160.5 1138.3 L1161 1136.9 L1161.5 1135.5 L1162 1134.1 L1162.5 1132.6 L1163 1131.2 L1163.5 1129.8 L1164 1128.3 L1164.5 1126.9 L1164.9 1125.5 L1165.4 1124 L1165.9 1122.6 L1166.3 1121.1 L1166.8 1119.7 L1167.2 1118.3 L1167.3 1118 L1167.7 1116.8 L1168.1 1115.4 L1168.5 1113.9 L1169 1112.5 L1169.4 1111 L1169.8 1109.6 L1170.2 1108.1 L1170.6 1106.6 L1171 1105.2 L1171.4 1103.7 L1171.8 1102.3 L1172.2 1100.8 L1172.6 1099.3 L1173 1097.9 L1173.4 1096.4 L1173.7 1095.4 L1173.8 1094.9 L1174.2 1093.5 L1174.5 1092 L1174.9 1090.5 L1175.2 1089.1 L1175.6 1087.6 L1176 1086.1 L1176.4 1084.7 L1176.6 1083.6 L1176.7 1083.2 L1177.2 1081.7 L1177.6 1080.3 L1178 1078.8 L1178.5 1077.4 L1183.1 1307.3 L1185.6 1316.6 L1188.3 1328.3 L1190.6 1338.4 L1191.7 1343.2 L1194.1 1210.3 L1227.1 1210.3 L1228.1 1209.2 L1229.1 1208 L1230 1206.8 L1230.5 1206.1 L1230.8 1205.6 L1231.6 1204.3 L1232.3 1203 L1232.9 1201.6 L1233.6 1200.2 L1234.2 1198.9 L1234.8 1197.5 L1235.3 1196 L1235.9 1194.6 L1236.4 1193.2 L1236.9 1191.7 L1237.5 1190.3 L1238 1188.8 L1238.5 1187.4 L1239 1186 L1239.5 1184.5 L1239.8 1183.8 L1240.1 1183.1 L1240.5 1181.6 L1241 1180.1 L1241.4 1178.6 L1241.8 1177.1 L1242.3 1175.6 L1242.7 1174.2 L1243.2 1172.8 L1243.8 1171.4 L1244.4 1170.2 L1244.5 1170.1 L1245.3 1168.9 L1246.4 1167.5 L1247.6 1166.2 L1248.9 1165.2 L1250 1164.7 L1250.4 1164.6 L1251 1164.7 L1251.9 1165.3 L1252.7 1166.3 L1253.5 1167.7 L1254.3 1169.2 L1255.1 1170.9 L1255.9 1172.6 L1256.7 1174.2 L1257.4 1175.4 L1257.5 1175.5 L1258.3 1177 L1259.2 1178.6 L1260 1180.2 L1260.9 1181.6 L1261.8 1182.7 L1262.7 1183.2 L1262.9 1183.2 L1263.7 1183 L1264.7 1182.3 L1265.8 1181.1 L1266.8 1179.7 L1267.9 1178.2 L1268.8 1176.8 L1269.5 1175.8 L1269.7 1175.5 L1270.6 1174.2 L1271.4 1173 L1272.1 1171.7 L1272.9 1170.4 L1273.6 1169 L1274.3 1167.7 L1275 1166.3 L1275.7 1164.9 L1276.4 1163.6 L1277 1162.2 L1277.5 1161.3 L1277.7 1160.8 L1278.3 1159.5 L1279 1158.1 L1279.6 1156.7 L1280.2 1155.3 L1280.8 1153.9 L1281.4 1152.5 L1282 1151.1 L1282.6 1149.7 L1283.1 1148.3 L1283.7 1146.9 L1284.2 1145.5 L1284.8 1144.1 L1285.3 1142.7 L1285.5 1142.1 L1285.9 1141.3 L1286.4 1139.8 L1286.9 1138.4 L1287.4 1137 L1288 1135.6 L1288.5 1134.1 L1289 1132.7 L1289.5 1131.3 L1289.9 1129.8 L1290.4 1128.4 L1290.9 1127 L1291.4 1125.5 L1291.8 1124.1 L1292.3 1122.6 L1292.8 1121.2 L1293.2 1119.7 L1293.6 1118.4 L1293.7 1118.3 L1294.1 1116.9 L1294.5 1115.4 L1295 1114 L1295.4 1112.5 L1295.8 1111 L1296.2 1109.6 L1296.6 1108.1 L1297 1106.7 L1297.5 1105.2 L1297.9 1103.7 L1298.2 1102.3 L1298.6 1100.8 L1299 1099.4 L1299.4 1097.9 L1299.8 1096.4 L1300 1095.6 L1300.2 1095 L1300.6 1093.5 L1300.9 1092 L1301.3 1090.5 L1301.6 1089.1 L1302 1087.6 L1302.4 1086.1 L1302.8 1084.7 L1303 1083.7 L1303.2 1083.2 L1303.6 1081.7 L1304 1080.3 L1304.4 1078.8 L1304.9 1077.4 L1309.5 1307.3 L1312 1316.6 L1314.7 1328.3 L1317 1338.4 L1318.1 1343.2 L1320.5 1210.3 L1353.4 1210.3 L1354.4 1209.2 L1355.4 1208 L1356.3 1206.8 L1356.8 1206.1 L1357.1 1205.6 L1357.9 1204.3 L1358.6 1203 L1359.2 1201.6 L1359.9 1200.3 L1360.5 1198.9 L1361.1 1197.5 L1361.6 1196 L1362.2 1194.6 L1362.7 1193.2 L1363.3 1191.7 L1363.8 1190.3 L1364.3 1188.9 L1364.8 1187.4 L1365.3 1186 L1365.9 1184.6 L1366.1 1183.9 L1366.4 1183.1 L1366.9 1181.7 L1367.3 1180.2 L1367.7 1178.6 L1368.2 1177.1 L1368.6 1175.6 L1369.1 1174.2 L1369.6 1172.8 L1370.2 1171.5 L1370.8 1170.3 L1370.9 1170.3 L1371.7 1169 L1372.9 1167.6 L1374.1 1166.3 L1375.4 1165.4 L1376.5 1164.9 L1376.7 1164.9 L1377.4 1165.1 L1378.3 1165.7 L1379.1 1166.8 L1379.9 1168.2 L1380.7 1169.8 L1381.5 1171.5 L1382.3 1173.2 L1383.1 1174.7 L1383.7 1175.7 L1383.9 1176.1 L1384.8 1177.5 L1385.6 1179.2 L1386.5 1180.8 L1387.4 1182.2 L1388.3 1183.1 L1389.2 1183.5 L1389.2 1183.5 L1390.1 1183.2 L1391.2 1182.4 L1392.2 1181.2 L1393.3 1179.8 L1394.3 1178.3 L1395.3 1176.8 L1395.8 1176 L1396.1 1175.6 L1397 1174.3 L1397.8 1173 L1398.5 1171.7 L1399.3 1170.4 L1400 1169.1 L1400.7 1167.7 L1401.4 1166.3 L1402.1 1165 L1402.7 1163.6 L1403.4 1162.2 L1403.7 1161.5 L1404 1160.9 L1404.7 1159.5 L1405.3 1158.1 L1405.6 1157.5" fill="none" stroke="#0a72ba" stroke-width="6.9" stroke-linejoin="round"/>
<path d="M188.6 1331 L193.6 1343.2 L196.7 1210.3 L262.7 1210.3 L263.9 1209.2 L265 1208.2 L266 1207 L266.9 1205.8 L267.4 1205 L267.6 1204.6 L268.2 1203.3 L268.7 1201.9 L269.2 1200.4 L269.6 1199 L270 1197.5 L270.4 1196 L270.8 1194.5 L271.3 1193 L271.8 1191.5 L272.1 1190.6 L272.3 1190.1 L272.9 1188.5 L273.5 1186.7 L274.2 1184.9 L274.9 1183.2 L275.6 1181.7 L276.3 1180.5 L277 1179.8 L277.5 1179.7 L277.7 1179.7 L278.4 1180.2 L279.1 1181.1 L279.8 1182.4 L280.5 1183.9 L281.3 1185.6 L282 1187.3 L282.8 1189.1 L283.6 1190.7 L284.4 1192.1 L284.5 1192.2 L285.3 1193.4 L286.2 1194.9 L287.2 1196.4 L288.2 1197.7 L289.3 1198.7 L290.4 1199.2 L290.7 1199.2 L291.6 1199.1 L292.9 1198.8 L294.2 1198.2 L295.7 1197.5 L297.1 1196.7 L298.5 1195.8 L299.9 1194.8 L301.2 1194 L301.6 1193.7 L302.4 1193.1 L303.6 1192.2 L304.7 1191.2 L305.9 1190.2 L307 1189.2 L308.1 1188.1 L309.1 1186.9 L310.2 1185.8 L311.2 1184.6 L312.2 1183.5 L313.2 1182.3 L314 1181.3 L314.1 1181.1 L315.1 1180 L316 1178.8 L316.9 1177.6 L317.9 1176.4 L318.8 1175.1 L319.6 1173.9 L320.5 1172.6 L321.4 1171.4 L322.2 1170.1 L323 1168.8 L323.8 1167.5 L324.6 1166.2 L324.9 1165.7 L325.4 1164.9 L326.1 1163.6 L326.8 1162.3 L327.6 1161 L328.3 1159.6 L329 1158.3 L329.7 1156.9 L330.4 1155.6 L331 1154.2 L331.7 1152.8 L332.3 1151.4 L333 1150.1 L333.6 1148.7 L334.2 1147.3 L334.3 1147.1 L334.8 1145.9 L335.4 1144.5 L336 1143.1 L336.6 1141.7 L337.1 1140.3 L337.7 1138.9 L338.2 1137.5 L338.8 1136 L339.3 1134.6 L339.8 1133.2 L340.3 1131.8 L340.8 1130.3 L341.3 1128.9 L341.8 1127.5 L342 1126.9 L342.3 1126 L342.8 1124.6 L343.2 1123.1 L343.7 1121.7 L344.1 1120.2 L344.6 1118.8 L345 1117.3 L345.4 1115.9 L345.8 1114.4 L346.2 1112.9 L346.6 1111.5 L347 1110 L347.4 1108.5 L347.8 1107.1 L348.2 1105.6 L348.3 1105.1 L348.5 1104.1 L348.9 1102.7 L349.2 1101.2 L349.6 1099.7 L349.9 1098.2 L350.2 1096.7 L350.6 1095.2 L350.9 1093.8 L351.2 1092.3 L351.5 1090.8 L351.8 1089.3 L352.1 1088 L352.1 1087.8 L352.4 1086.3 L352.7 1084.8 L353 1083.4 L353.3 1081.9 L353.6 1080.4 L353.9 1078.9 L354.2 1077.4 L357.3 1289.5 L362.2 1298.8 L366.9 1317.5 L370.3 1343.2 L373.4 1210.3 L397.2 1210.3 L398.4 1209.3 L399.5 1208.2 L400.5 1207.1 L401.2 1206.1 L401.3 1205.9 L402.1 1204.6 L402.8 1203.3 L403.5 1202 L404.1 1200.6 L404.7 1199.2 L405.2 1197.8 L405.8 1196.3 L406.3 1194.9 L406.9 1193.4 L407.4 1192.2 L407.5 1192 L408 1190.5 L408.6 1188.7 L409.1 1186.9 L409.7 1185 L410.2 1183.2 L410.7 1181.5 L411.3 1180.1 L411.8 1179.1 L412.4 1178.4 L412.9 1178.2 L413 1178.2 L413.6 1178.7 L414.2 1179.7 L414.9 1181.1 L415.5 1182.7 L416.2 1184.5 L416.9 1186.3 L417.7 1187.9 L418.3 1189 L418.5 1189.3 L419.3 1190.7 L420.3 1192.1 L421.3 1193.6 L422.3 1194.9 L423.4 1196 L424.5 1196.7 L425.3 1196.8 L425.6 1196.8 L426.9 1196.5 L428.2 1196 L429.5 1195.2 L430.9 1194.2 L432.2 1193.2 L433.5 1192.1 L434.8 1191.1 L435.4 1190.6 L435.9 1190.2 L437 1189.2 L438.1 1188.1 L439.2 1187 L440.2 1185.9 L441.2 1184.8 L442.2 1183.6 L443.1 1182.4 L444.1 1181.2 L445 1179.9 L445.9 1178.7 L446.3 1178.2 L446.8 1177.5 L447.7 1176.3 L448.6 1175.1 L449.4 1173.8 L450.3 1172.6 L451.1 1171.3 L452 1170 L452.8 1168.7 L453.6 1167.4 L454.4 1166.1 L455.1 1164.8 L455.9 1163.5 L456.6 1162.2 L457.2 1161.1 L457.3 1160.9 L458 1159.5 L458.7 1158.2 L459.4 1156.8 L460 1155.5 L460.7 1154.1 L461.3 1152.7 L461.9 1151.3 L462.5 1149.9 L463.1 1148.5 L463.7 1147.1 L464.3 1145.7 L464.9 1144.3 L465 1144 L465.4 1142.9 L466 1141.5 L466.5 1140.1 L467.1 1138.7 L467.6 1137.3 L468.1 1135.8 L468.6 1134.4 L469.1 1133 L469.6 1131.6 L470.1 1130.1 L470.6 1128.7 L471.1 1127.2 L471.6 1125.8 L472 1124.4 L472.5 1122.9 L472.7 1122.2 L472.9 1121.5 L473.4 1120 L473.8 1118.6 L474.2 1117.1 L474.6 1115.7 L475 1114.2 L475.4 1112.8 L475.8 1111.3 L476.2 1109.8 L476.6 1108.4 L477 1106.9 L477.4 1105.4 L477.8 1104 L478.1 1102.5 L478.5 1101 L478.8 1099.5 L479 1098.9 L479.2 1098.1 L479.5 1096.6 L479.9 1095.1 L480.2 1093.6 L480.5 1092.2 L480.8 1090.7 L481.1 1089.2 L481.5 1087.7 L481.8 1086.2 L482.1 1084.9 L482.1 1084.8 L482.5 1083.3 L482.8 1081.8 L483.2 1080.3 L483.5 1078.9 L483.9 1077.4 L487.8 1292.6 L493 1305 L496.8 1322.2 L499.5 1343.2 L502.6 1210.3 L527.9 1210.3 L529.1 1209.2 L530.2 1208.2 L531.2 1207 L531.8 1206.1 L532 1205.8 L532.7 1204.5 L533.3 1203.2 L534 1201.8 L534.5 1200.4 L535 1199 L535.6 1197.5 L536.1 1196 L536.6 1194.6 L537.1 1193.1 L537.6 1191.7 L538 1190.6 L538.1 1190.2 L538.7 1188.6 L539.3 1186.9 L539.8 1185 L540.4 1183.1 L540.9 1181.3 L541.5 1179.6 L542 1178 L542.6 1176.8 L543.2 1175.8 L543.8 1175.2 L544.2 1175.1 L544.4 1175.1 L545 1175.6 L545.6 1176.6 L546.2 1177.9 L546.9 1179.5 L547.5 1181.3 L548.2 1183.1 L549 1184.8 L549.8 1186.4 L550.5 1187.5 L550.6 1187.7 L551.6 1188.9 L552.7 1190.3 L553.8 1191.6 L555 1192.7 L556.3 1193.4 L557.5 1193.7 L557.5 1193.7 L558.8 1193.5 L560.1 1193 L561.5 1192.2 L562.9 1191.3 L564.3 1190.3 L565.6 1189.3 L566 1189 L566.7 1188.4 L567.8 1187.5 L568.9 1186.4 L570 1185.3 L571 1184.2 L572 1183 L573 1181.8 L573.9 1180.6 L574.9 1179.3 L575.8 1178.1 L576.7 1176.9 L576.9 1176.6 L577.6 1175.7 L578.5 1174.4 L579.4 1173.2 L580.2 1172 L581.1 1170.7 L582 1169.4 L582.8 1168.1 L583.6 1166.8 L584.4 1165.5 L585.2 1164.2 L586 1162.9 L586.7 1161.6 L587.4 1160.2 L587.8 1159.5 L588.1 1158.9 L588.8 1157.6 L589.5 1156.2 L590.1 1154.8 L590.7 1153.4 L591.4 1152.1 L592 1150.7 L592.6 1149.3 L593.2 1147.8 L593.8 1146.4 L594.3 1145 L594.9 1143.6 L595.4 1142.2 L596 1140.7 L596.5 1139.3 L597 1137.9 L597.1 1137.7 L597.5 1136.5 L598.1 1135 L598.6 1133.6 L599.1 1132.2 L599.6 1130.7 L600 1129.3 L600.5 1127.8 L601 1126.4 L601.5 1124.9 L601.9 1123.5 L602.4 1122 L602.8 1120.5 L603.2 1119.1 L603.6 1117.6 L604 1116.2 L604.4 1114.7 L604.8 1113.2 L604.9 1112.9 L605.2 1111.7 L605.5 1110.3 L605.9 1108.8 L606.2 1107.3 L606.6 1105.8 L606.9 1104.3 L607.2 1102.8 L607.5 1101.4 L607.8 1099.9 L608.1 1098.4 L608.4 1096.9 L608.7 1095.4 L609 1093.9 L609.3 1092.4 L609.5 1091.1 L609.5 1090.9 L609.8 1089.4 L610.1 1087.9 L610.4 1086.4 L610.6 1084.9 L610.9 1083.4 L611.2 1081.9 L611.4 1080.4 L611.7 1078.9 L611.9 1077.4 L615.3 1296.8 L617.6 1305 L620.4 1316.6 L622.7 1328.3 L624.6 1338.4 L626.2 1343.2 L628.9 1210.3 L655.1 1210.3 L656.4 1209.4 L657.6 1208.4 L658.7 1207.3 L659.6 1206.2 L659.7 1206.1 L660.4 1205 L661.1 1203.7 L661.7 1202.3 L662.3 1200.9 L662.9 1199.4 L663.4 1198 L663.9 1196.5 L664.4 1195.3 L664.5 1195.1 L665 1193.7 L665.6 1192.2 L666.1 1190.8 L666.6 1189.3 L667.1 1187.9 L667.6 1186.5 L668.1 1185.1 L668.7 1183.7 L669.1 1182.8 L669.3 1182.3 L670 1180.7 L670.8 1178.9 L671.5 1177.2 L672.3 1175.6 L673.1 1174.4 L673.9 1173.6 L674.5 1173.4 L674.7 1173.4 L675.4 1173.9 L676.1 1174.8 L676.9 1176.2 L677.6 1177.8 L678.3 1179.5 L679.1 1181.3 L679.9 1182.9 L680.7 1184.3 L680.7 1184.3 L681.6 1185.6 L682.5 1187.1 L683.5 1188.6 L684.6 1189.9 L685.6 1190.9 L686.7 1191.3 L686.9 1191.3 L687.9 1191.2 L689.1 1190.8 L690.5 1190.1 L691.8 1189.3 L693.2 1188.3 L694.5 1187.2 L695.8 1186.1 L697.1 1185 L698 1184.1 L698.2 1184 L699.2 1183 L700.2 1181.9 L701.2 1180.7 L702.1 1179.6 L703.1 1178.3 L704 1177.1 L704.8 1175.8 L705.7 1174.5 L706.5 1173.2 L707.4 1171.9 L708.2 1170.6 L709 1169.2 L709.7 1168.1 L709.8 1168 L710.6 1166.7 L711.3 1165.4 L712.1 1164.1 L712.9 1162.7 L713.6 1161.4 L714.3 1160.1 L715.1 1158.7 L715.8 1157.4 L716.5 1156 L717.1 1154.6 L717.8 1153.3 L718.4 1151.9 L719.1 1150.5 L719.7 1149.1 L719.8 1149 L720.3 1147.7 L720.9 1146.3 L721.5 1144.9 L722 1143.5 L722.6 1142.1 L723.1 1140.7 L723.7 1139.3 L724.2 1137.8 L724.7 1136.4 L725.2 1135 L725.7 1133.5 L726.2 1132.1 L726.7 1130.6 L727.2 1129.2 L727.6 1127.7 L728 1126.6 L728.1 1126.3 L728.5 1124.8 L728.9 1123.4 L729.4 1121.9 L729.8 1120.5 L730.2 1119 L730.6 1117.5 L731 1116 L731.3 1114.6 L731.7 1113.1 L732.1 1111.6 L732.5 1110.1 L732.8 1108.7 L733.2 1107.2 L733.5 1105.7 L733.8 1104.2 L733.9 1104.2 L734.2 1102.7 L734.5 1101.3 L734.8 1099.8 L735.1 1098.3 L735.4 1096.8 L735.7 1095.3 L736 1093.8 L736.3 1092.3 L736.6 1090.8 L736.9 1089.3 L737.2 1087.8 L737.5 1086.3 L737.8 1084.8 L738 1083.5 L738.1 1083.4 L738.4 1081.9 L738.7 1080.4 L739 1078.9 L739.3 1077.4 L742.3 1296.8 L744.6 1305 L747.4 1316.6 L749.7 1328.3 L751.6 1338.4 L753.2 1343.2 L755.9 1210.3 L783.2 1210.3 L784.5 1209.4 L785.7 1208.4 L786.8 1207.3 L787.7 1206.2 L787.8 1206.1 L788.5 1205 L789.2 1203.7 L789.8 1202.4 L790.4 1201 L790.9 1199.5 L791.5 1198 L792 1196.6 L792.5 1195.3 L792.6 1195.2 L793.1 1193.7 L793.6 1192.3 L794.1 1190.9 L794.5 1189.4 L795 1188 L795.5 1186.6 L796 1185.1 L796.5 1183.7 L797.1 1182.3 L797.2 1182 L797.7 1180.8 L798.4 1179.2 L799.1 1177.4 L799.8 1175.7 L800.5 1174.1 L801.3 1172.9 L802 1172.1 L802.6 1171.9 L802.8 1171.9 L803.5 1172.3 L804.2 1173.3 L804.9 1174.6 L805.6 1176.2 L806.3 1177.9 L807.1 1179.7 L807.9 1181.3 L808.7 1182.7 L808.8 1182.8 L809.6 1184 L810.6 1185.5 L811.5 1187 L812.6 1188.3 L813.6 1189.3 L814.7 1189.8 L815 1189.8 L815.9 1189.7 L817.1 1189.3 L818.4 1188.6 L819.7 1187.8 L821.1 1186.8 L822.4 1185.7 L823.7 1184.6 L824.9 1183.5 L825.7 1182.7 L826 1182.5 L827 1181.4 L828 1180.3 L828.9 1179.2 L829.9 1178 L830.8 1176.8 L831.6 1175.5 L832.5 1174.2 L833.3 1172.9 L834.1 1171.6 L834.9 1170.3 L835.7 1168.9 L836.5 1167.6 L837 1166.9 L837.3 1166.3 L838.1 1165.1 L838.8 1163.7 L839.6 1162.4 L840.3 1161.1 L841 1159.8 L841.7 1158.4 L842.4 1157.1 L843.1 1155.7 L843.8 1154.4 L844.4 1153 L845.1 1151.6 L845.7 1150.2 L846.3 1148.9 L846.7 1148 L846.9 1147.5 L847.5 1146.1 L848.1 1144.7 L848.6 1143.3 L849.2 1141.9 L849.7 1140.5 L850.2 1139 L850.8 1137.6 L851.3 1136.2 L851.8 1134.7 L852.3 1133.3 L852.7 1131.9 L853.2 1130.4 L853.7 1129 L854.1 1127.5 L854.5 1126.1 L854.6 1125.9 L855 1124.6 L855.4 1123.2 L855.8 1121.7 L856.2 1120.3 L856.6 1118.8 L857 1117.4 L857.4 1115.9 L857.8 1114.4 L858.1 1113 L858.5 1111.5 L858.8 1110 L859.2 1108.5 L859.5 1107.1 L859.9 1105.6 L860.2 1104.1 L860.2 1103.9 L860.5 1102.6 L860.8 1101.2 L861.1 1099.7 L861.4 1098.2 L861.7 1096.7 L862 1095.2 L862.3 1093.7 L862.6 1092.3 L862.9 1090.8 L863.1 1089.3 L863.4 1087.8 L863.7 1086.3 L864 1084.8 L864.3 1083.4 L864.3 1083.3 L864.6 1081.8 L864.9 1080.4 L865.2 1078.9 L865.5 1077.4 L868.5 1296.8 L870.8 1305 L873.6 1316.6 L875.9 1328.3 L877.8 1338.4 L879.4 1343.2 L882.1 1210.3 L911.1 1210.3 L912.4 1209.4 L913.6 1208.4 L914.7 1207.3 L915.6 1206.2 L915.7 1206.1 L916.4 1205 L917.1 1203.7 L917.7 1202.3 L918.3 1200.9 L918.9 1199.5 L919.4 1198 L919.9 1196.5 L920.4 1195.3 L920.5 1195.1 L921 1193.7 L921.5 1192.2 L921.9 1190.8 L922.4 1189.3 L922.8 1187.9 L923.3 1186.4 L923.8 1185 L924.3 1183.5 L924.8 1182.1 L925.1 1181.3 L925.3 1180.7 L926 1179 L926.6 1177.3 L927.3 1175.4 L928 1173.7 L928.7 1172.3 L929.4 1171.2 L930.1 1170.5 L930.5 1170.4 L930.8 1170.5 L931.5 1171 L932.2 1172.1 L932.9 1173.5 L933.7 1175.1 L934.4 1176.8 L935.2 1178.6 L936 1180.2 L936.7 1181.3 L936.8 1181.5 L937.8 1182.9 L938.7 1184.4 L939.7 1185.9 L940.7 1187.1 L941.8 1188 L942.9 1188.3 L942.9 1188.3 L944.1 1188.1 L945.3 1187.6 L946.7 1186.9 L948 1185.9 L949.4 1184.9 L950.7 1183.7 L951.9 1182.6 L953 1181.5 L953.3 1181.3 L954.1 1180.5 L955.1 1179.4 L956 1178.3 L957 1177.1 L957.9 1175.9 L958.8 1174.6 L959.6 1173.3 L960.4 1172 L961.3 1170.7 L962.1 1169.3 L962.8 1168 L963.6 1166.7 L964.2 1165.7 L964.4 1165.4 L965.2 1164.1 L965.9 1162.8 L966.6 1161.4 L967.4 1160.1 L968.1 1158.8 L968.8 1157.4 L969.5 1156.1 L970.2 1154.7 L970.8 1153.3 L971.5 1151.9 L972.1 1150.6 L972.7 1149.2 L973.3 1147.8 L973.6 1147.1 L973.9 1146.4 L974.5 1145 L975.1 1143.6 L975.6 1142.2 L976.2 1140.7 L976.7 1139.3 L977.2 1137.9 L977.7 1136.4 L978.2 1135 L978.7 1133.6 L979.2 1132.1 L979.7 1130.7 L980.1 1129.2 L980.6 1127.8 L981 1126.3 L981.3 1125.3 L981.4 1124.9 L981.9 1123.4 L982.3 1121.9 L982.7 1120.5 L983.1 1119 L983.5 1117.5 L983.8 1116.1 L984.2 1114.6 L984.6 1113.1 L984.9 1111.6 L985.3 1110.2 L985.6 1108.7 L986 1107.2 L986.3 1105.7 L986.6 1104.2 L986.8 1103.5 L987 1102.8 L987.3 1101.3 L987.6 1099.8 L987.9 1098.3 L988.2 1096.8 L988.5 1095.3 L988.7 1093.8 L989 1092.3 L989.3 1090.8 L989.6 1089.3 L989.9 1087.8 L990.1 1086.3 L990.4 1084.9 L990.7 1083.4 L990.7 1083.3 L991 1081.9 L991.3 1080.4 L991.6 1078.9 L991.9 1077.4 L994.9 1296.8 L997.2 1305 L1000 1316.6 L1002.3 1328.3 L1004.2 1338.4 L1005.8 1343.2 L1008.5 1210.3 L1038.4 1210.3 L1039.7 1209.4 L1040.9 1208.4 L1042 1207.3 L1042.9 1206.2 L1043 1206.1 L1043.7 1205 L1044.4 1203.7 L1045 1202.4 L1045.6 1200.9 L1046.2 1199.5 L1046.7 1198 L1047.2 1196.6 L1047.7 1195.3 L1047.8 1195.1 L1048.3 1193.7 L1048.7 1192.3 L1049.2 1190.8 L1049.6 1189.4 L1050.1 1187.9 L1050.5 1186.5 L1050.9 1185 L1051.4 1183.6 L1051.9 1182.1 L1052.4 1180.8 L1052.4 1180.7 L1053 1179.2 L1053.6 1177.4 L1054.2 1175.6 L1054.9 1173.8 L1055.5 1172.2 L1056.2 1170.8 L1056.9 1169.9 L1057.6 1169.4 L1057.8 1169.4 L1058.3 1169.6 L1059 1170.3 L1059.7 1171.4 L1060.4 1172.9 L1061.2 1174.6 L1061.9 1176.4 L1062.7 1178.1 L1063.5 1179.6 L1064 1180.3 L1064.4 1180.9 L1065.3 1182.3 L1066.3 1183.8 L1067.3 1185.2 L1068.3 1186.4 L1069.4 1187.1 L1070.2 1187.3 L1070.5 1187.3 L1071.7 1187 L1073 1186.4 L1074.3 1185.6 L1075.7 1184.6 L1077 1183.5 L1078.3 1182.4 L1079.4 1181.2 L1080.4 1180.4 L1080.5 1180.2 L1081.5 1179.1 L1082.5 1178 L1083.4 1176.9 L1084.4 1175.7 L1085.2 1174.4 L1086.1 1173.1 L1086.9 1171.8 L1087.7 1170.5 L1088.5 1169.2 L1089.3 1167.8 L1090.1 1166.5 L1090.9 1165.2 L1091 1164.9 L1091.6 1163.9 L1092.4 1162.6 L1093.1 1161.3 L1093.8 1159.9 L1094.5 1158.6 L1095.2 1157.2 L1095.9 1155.9 L1096.6 1154.5 L1097.3 1153.2 L1097.9 1151.8 L1098.5 1150.4 L1099.2 1149 L1099.8 1147.6 L1100.2 1146.5 L1100.3 1146.2 L1100.9 1144.8 L1101.5 1143.4 L1102 1142 L1102.5 1140.6 L1103.1 1139.2 L1103.6 1137.8 L1104.1 1136.3 L1104.6 1134.9 L1105.1 1133.4 L1105.6 1132 L1106 1130.6 L1106.5 1129.1 L1106.9 1127.7 L1107.4 1126.2 L1107.8 1124.9 L1107.8 1124.8 L1108.2 1123.3 L1108.6 1121.9 L1109 1120.4 L1109.4 1118.9 L1109.8 1117.5 L1110.2 1116 L1110.5 1114.5 L1110.9 1113 L1111.2 1111.6 L1111.6 1110.1 L1111.9 1108.6 L1112.3 1107.1 L1112.6 1105.7 L1112.9 1104.2 L1113.1 1103.3 L1113.2 1102.7 L1113.6 1101.2 L1113.9 1099.7 L1114.1 1098.2 L1114.4 1096.8 L1114.7 1095.3 L1115 1093.8 L1115.3 1092.3 L1115.5 1090.8 L1115.8 1089.3 L1116.1 1087.8 L1116.4 1086.3 L1116.6 1084.8 L1116.9 1083.3 L1117 1083.2 L1117.2 1081.9 L1117.5 1080.4 L1117.8 1078.9 L1118.1 1077.4 L1121.1 1296.8 L1123.4 1305 L1126.2 1316.6 L1128.5 1328.3 L1130.4 1338.4 L1132 1343.2 L1134.7 1210.3 L1164.8 1210.3 L1166.1 1209.4 L1167.3 1208.4 L1168.4 1207.3 L1169.3 1206.2 L1169.4 1206.1 L1170.1 1205 L1170.8 1203.7 L1171.4 1202.4 L1172 1201 L1172.6 1199.5 L1173.1 1198 L1173.6 1196.6 L1174.1 1195.3 L1174.2 1195.1 L1174.7 1193.7 L1175.1 1192.3 L1175.6 1190.8 L1176 1189.4 L1176.4 1187.9 L1176.8 1186.5 L1177.3 1185 L1177.7 1183.6 L1178.2 1182.1 L1178.7 1180.7 L1178.8 1180.4 L1179.2 1179.2 L1179.8 1177.5 L1180.4 1175.7 L1181 1173.9 L1181.7 1172.2 L1182.3 1170.7 L1183 1169.5 L1183.7 1168.8 L1184.2 1168.6 L1184.4 1168.6 L1185 1169.1 L1185.7 1170 L1186.4 1171.3 L1187.2 1172.9 L1187.9 1174.7 L1188.7 1176.4 L1189.5 1178 L1190.3 1179.4 L1190.4 1179.5 L1191.2 1180.8 L1192.2 1182.2 L1193.2 1183.7 L1194.2 1185 L1195.2 1186 L1196.3 1186.5 L1196.6 1186.5 L1197.5 1186.4 L1198.7 1186 L1200 1185.3 L1201.4 1184.3 L1202.7 1183.3 L1204 1182.2 L1205.2 1181 L1206.4 1179.9 L1206.7 1179.6 L1207.4 1178.9 L1208.4 1177.8 L1209.3 1176.7 L1210.3 1175.5 L1211.2 1174.3 L1212 1173 L1212.9 1171.7 L1213.7 1170.4 L1214.5 1169.1 L1215.3 1167.7 L1216.1 1166.4 L1216.8 1165.1 L1217.3 1164.3 L1217.6 1163.8 L1218.3 1162.5 L1219.1 1161.2 L1219.8 1159.8 L1220.5 1158.5 L1221.2 1157.2 L1221.9 1155.8 L1222.6 1154.4 L1223.3 1153.1 L1223.9 1151.7 L1224.6 1150.3 L1225.2 1148.9 L1225.8 1147.5 L1226.4 1146.2 L1226.4 1146 L1226.9 1144.8 L1227.5 1143.4 L1228.1 1142 L1228.6 1140.5 L1229.1 1139.1 L1229.6 1137.7 L1230.2 1136.3 L1230.7 1134.8 L1231.1 1133.4 L1231.6 1132 L1232.1 1130.5 L1232.5 1129.1 L1233 1127.6 L1233.4 1126.2 L1233.9 1124.7 L1233.9 1124.5 L1234.3 1123.3 L1234.7 1121.8 L1235.1 1120.4 L1235.5 1118.9 L1235.9 1117.4 L1236.2 1116 L1236.6 1114.5 L1237 1113 L1237.3 1111.5 L1237.7 1110.1 L1238 1108.6 L1238.4 1107.1 L1238.7 1105.6 L1239 1104.2 L1239.2 1103.1 L1239.3 1102.7 L1239.6 1101.2 L1239.9 1099.7 L1240.2 1098.2 L1240.5 1096.7 L1240.8 1095.3 L1241.1 1093.8 L1241.4 1092.3 L1241.6 1090.8 L1241.9 1089.3 L1242.2 1087.8 L1242.5 1086.3 L1242.7 1084.8 L1243 1083.3 L1243.1 1083.2 L1243.3 1081.9 L1243.6 1080.4 L1243.9 1078.9 L1244.2 1077.4 L1247.2 1296.8 L1249.5 1305 L1252.3 1316.6 L1254.6 1328.3 L1256.5 1338.4 L1258.1 1343.2 L1260.8 1210.3 L1291.2 1210.3 L1292.5 1209.4 L1293.7 1208.4 L1294.8 1207.3 L1295.7 1206.2 L1295.8 1206.1 L1296.5 1205 L1297.2 1203.7 L1297.8 1202.4 L1298.4 1201 L1299 1199.5 L1299.5 1198 L1300 1196.6 L1300.5 1195.3 L1300.6 1195.2 L1301.1 1193.7 L1301.5 1192.3 L1302 1190.8 L1302.4 1189.4 L1302.8 1187.9 L1303.2 1186.5 L1303.6 1185 L1304.1 1183.5 L1304.5 1182.1 L1305 1180.7 L1305.2 1180.1 L1305.5 1179.2 L1306.1 1177.5 L1306.7 1175.7 L1307.3 1173.9 L1307.9 1172.1 L1308.5 1170.6 L1309.2 1169.3 L1309.9 1168.5 L1310.5 1168.1 L1310.6 1168.1 L1311.2 1168.4 L1311.9 1169.2 L1312.6 1170.4 L1313.3 1171.9 L1314.1 1173.6 L1314.8 1175.4 L1315.6 1177 L1316.5 1178.5 L1316.8 1179 L1317.3 1179.8 L1318.3 1181.3 L1319.2 1182.8 L1320.3 1184.2 L1321.3 1185.2 L1322.4 1185.9 L1323 1186 L1323.5 1186 L1324.7 1185.6 L1326 1185 L1327.3 1184.1 L1328.7 1183.1 L1330 1182 L1331.3 1180.9 L1332.4 1179.8 L1333.1 1179.1 L1333.5 1178.7 L1334.5 1177.7 L1335.4 1176.6 L1336.4 1175.4 L1337.3 1174.2 L1338.2 1172.9 L1339 1171.6 L1339.8 1170.3 L1340.6 1169 L1341.4 1167.7 L1342.2 1166.3 L1343 1165 L1343.7 1163.9 L1343.8 1163.7 L1344.5 1162.4 L1345.3 1161.1 L1346 1159.8 L1346.7 1158.4 L1347.4 1157.1 L1348.1 1155.7 L1348.8 1154.4 L1349.5 1153 L1350.1 1151.7 L1350.8 1150.3 L1351.4 1148.9 L1352 1147.5 L1352.6 1146.1 L1352.8 1145.7 L1353.2 1144.7 L1353.7 1143.3 L1354.3 1141.9 L1354.8 1140.5 L1355.4 1139.1 L1355.9 1137.7 L1356.4 1136.2 L1356.9 1134.8 L1357.4 1133.4 L1357.9 1131.9 L1358.3 1130.5 L1358.8 1129 L1359.3 1127.6 L1359.7 1126.1 L1360.1 1124.7 L1360.2 1124.3 L1360.5 1123.3 L1361 1121.8 L1361.4 1120.3 L1361.8 1118.9 L1362.1 1117.4 L1362.5 1115.9 L1362.9 1114.5 L1363.3 1113 L1363.6 1111.5 L1364 1110.1 L1364.3 1108.6 L1364.6 1107.1 L1365 1105.6 L1365.3 1104.1 L1365.6 1103 L1365.6 1102.7 L1365.9 1101.2 L1366.2 1099.7 L1366.5 1098.2 L1366.8 1096.7 L1367.1 1095.3 L1367.4 1093.8 L1367.7 1092.3 L1367.9 1090.8 L1368.2 1089.3 L1368.5 1087.8 L1368.8 1086.3 L1369 1084.8 L1369.3 1083.3 L1369.4 1083.2 L1369.6 1081.9 L1369.9 1080.4 L1370.2 1078.9 L1370.5 1077.4 L1373.5 1296.8 L1375.8 1305 L1378.6 1316.6 L1380.9 1328.3 L1382.8 1338.4 L1384.4 1343.2 L1387.1 1210.3 L1405.6 1210.3" fill="none" stroke="#d95527" stroke-width="6.9" stroke-linejoin="round"/>
<text x="1.5" y="1070.4" text-anchor="start" fill="#000" text-rendering="geometricPrecision"><tspan font-family='"Liberation Sans", sans-serif' font-style="normal" font-size="62.5">(c)</tspan></text>
<text x="146.2" y="1083.5" text-anchor="start" fill="#000" text-rendering="geometricPrecision"><tspan font-family='"Liberation Serif", serif' font-style="normal" font-size="49.5">2</tspan></text>
<text x="146" y="1228.8" text-anchor="start" fill="#000" text-rendering="geometricPrecision"><tspan font-family='"Liberation Serif", serif' font-style="normal" font-size="49.5">0</tspan></text>
<text x="129.8" y="1352" text-anchor="start" fill="#000" text-rendering="geometricPrecision"><tspan font-family='"Liberation Serif", serif' font-style="normal" font-size="49.5">-2</tspan></text>
<text x="45.6" y="1229.3" text-anchor="start" fill="#000" text-rendering="geometricPrecision"><tspan font-family='"Liberation Serif", serif' font-style="italic" font-size="65">F</tspan><tspan font-family='"Liberation Serif", serif' font-style="italic" font-size="50" dx="1">a</tspan></text>
<text x="184.9" y="1459.6" text-anchor="start" fill="#000" text-rendering="geometricPrecision"><tspan font-family='"Liberation Serif", serif' font-style="normal" font-size="49.5">0</tspan></text>
<text x="567.1" y="1460" text-anchor="start" fill="#000" text-rendering="geometricPrecision"><tspan font-family='"Liberation Serif", serif' font-style="normal" font-size="49.5">10</tspan></text>
<text x="976" y="1460" text-anchor="start" fill="#000" text-rendering="geometricPrecision"><tspan font-family='"Liberation Serif", serif' font-style="normal" font-size="49.5">20</tspan></text>
<text x="1366.4" y="1460.2" text-anchor="start" fill="#000" text-rendering="geometricPrecision"><tspan font-family='"Liberation Serif", serif' font-style="normal" font-size="49.5">30</tspan></text>
<text x="745.5" y="1525.6" text-anchor="start" fill="#000" text-rendering="geometricPrecision"><tspan font-family='"Liberation Sans", sans-serif' font-style="normal" font-size="49">time,</tspan><tspan font-family='"Liberation Sans", sans-serif' font-style="normal" font-size="49"> </tspan><tspan font-family='"Liberation Serif", serif' font-style="italic" font-size="63" dx="0.5">t</tspan></text>
</svg>
</body></html>
